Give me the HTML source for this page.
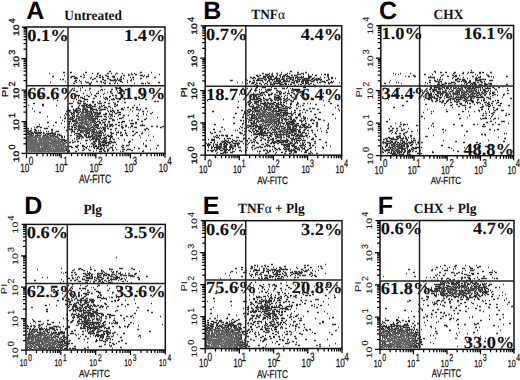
<!DOCTYPE html>
<html><head><meta charset="utf-8"><style>
html,body{margin:0;padding:0;background:#fff;width:520px;height:380px;overflow:hidden}
svg{display:block;text-rendering:geometricPrecision}
.let{font:bold 25px "Liberation Sans",sans-serif;fill:#000}
.tit{font:bold 14px "Liberation Serif",serif;fill:#111}
.pc{font:bold 17px "Liberation Serif",serif;fill:#111;stroke:#111;stroke-width:0.1}
.ax{font:12px "Liberation Sans",sans-serif;fill:#111;stroke:#111;stroke-width:0.25}
.ay{font:8px "Liberation Sans",sans-serif;fill:#111;stroke:#111;stroke-width:0.3}
.lt{stroke-width:0.1;fill:#222;stroke:#222}
.at{font:12px "Liberation Sans",sans-serif;fill:#111;stroke:#111;stroke-width:0.25}
.box{fill:none;stroke:#111;stroke-width:1.5}
.div{stroke:#222;stroke-width:1.5}
.tk{stroke:#000;stroke-width:1.25;fill:none}
</style></head><body>
<svg width="520" height="380" viewBox="0 0 520 380">
<text x="26.3" y="19.0" class="let">A</text>
<text transform="translate(64.3,19.5) scale(0.955,1)" class="tit">Untreated</text>
<rect x="26.5" y="27.0" width="138.5" height="126.3" class="box"/>
<line x1="68.0" y1="27.0" x2="68.0" y2="153.3" class="div"/>
<line x1="26.5" y1="85.7" x2="165.0" y2="85.7" class="div"/>
<path d="M26.5 153.3v5M26.5 153.3h-5M36.9 153.3v3M26.5 143.8h-3M43.0 153.3v3M26.5 138.2h-3M47.3 153.3v3M26.5 134.3h-3M50.7 153.3v3M26.5 131.2h-3M53.4 153.3v3M26.5 128.7h-3M55.8 153.3v3M26.5 126.6h-3M57.8 153.3v3M26.5 124.8h-3M59.5 153.3v3M26.5 123.2h-3M61.1 153.3v5M26.5 121.7h-5M71.5 153.3v3M26.5 112.2h-3M77.6 153.3v3M26.5 106.7h-3M82.0 153.3v3M26.5 102.7h-3M85.3 153.3v3M26.5 99.7h-3M88.1 153.3v3M26.5 97.2h-3M90.4 153.3v3M26.5 95.0h-3M92.4 153.3v3M26.5 93.2h-3M94.2 153.3v3M26.5 91.6h-3M95.8 153.3v5M26.5 90.2h-5M106.2 153.3v3M26.5 80.6h-3M112.3 153.3v3M26.5 75.1h-3M116.6 153.3v3M26.5 71.1h-3M120.0 153.3v3M26.5 68.1h-3M122.7 153.3v3M26.5 65.6h-3M125.0 153.3v3M26.5 63.5h-3M127.0 153.3v3M26.5 61.6h-3M128.8 153.3v3M26.5 60.0h-3M130.4 153.3v5M26.5 58.6h-5M140.8 153.3v3M26.5 49.1h-3M146.9 153.3v3M26.5 43.5h-3M151.2 153.3v3M26.5 39.6h-3M154.6 153.3v3M26.5 36.5h-3M157.3 153.3v3M26.5 34.0h-3M159.6 153.3v3M26.5 31.9h-3M161.6 153.3v3M26.5 30.1h-3M163.4 153.3v3M26.5 28.4h-3M165.0 153.3v4.5M26.5 27.0h-4.5" class="tk"/>
<text class="ax" style="font-size:12.0px" transform="translate(20.3,171.7) scale(0.683,1)">10</text>
<text class="ax" style="font-size:12.0px" transform="translate(28.7,165.4) scale(0.683,1)">0</text>
<text class="ax" style="font-size:12.0px" transform="translate(54.9,171.7) scale(0.683,1)">10</text>
<text class="ax" style="font-size:12.0px" transform="translate(63.3,165.4) scale(0.683,1)">1</text>
<text class="ax" style="font-size:12.0px" transform="translate(89.5,171.7) scale(0.683,1)">10</text>
<text class="ax" style="font-size:12.0px" transform="translate(98.0,165.4) scale(0.683,1)">2</text>
<text class="ax" style="font-size:12.0px" transform="translate(124.2,171.7) scale(0.683,1)">10</text>
<text class="ax" style="font-size:12.0px" transform="translate(132.6,165.4) scale(0.683,1)">3</text>
<text class="ax" style="font-size:12.0px" transform="translate(158.8,171.7) scale(0.683,1)">10</text>
<text class="ax" style="font-size:12.0px" transform="translate(167.2,165.4) scale(0.683,1)">4</text>
<text class="ay" transform="translate(18.5,162.3) rotate(-90) scale(1.3,1)">10</text>
<text class="ay" style="font-size:9px" transform="translate(14.9,149.5) rotate(-90)">0</text>
<text class="ay" transform="translate(18.5,130.7) rotate(-90) scale(1.3,1)">10</text>
<text class="ay" style="font-size:9px" transform="translate(14.9,117.9) rotate(-90)">1</text>
<text class="ay" transform="translate(18.5,99.2) rotate(-90) scale(1.3,1)">10</text>
<text class="ay" style="font-size:9px" transform="translate(14.9,86.4) rotate(-90)">2</text>
<text class="ay" transform="translate(18.5,67.6) rotate(-90) scale(1.3,1)">10</text>
<text class="ay" style="font-size:9px" transform="translate(14.9,54.8) rotate(-90)">3</text>
<text class="ay" transform="translate(18.5,36.0) rotate(-90) scale(1.3,1)">10</text>
<text class="ay" style="font-size:9px" transform="translate(14.9,23.2) rotate(-90)">4</text>
<text class="at" style="font-size:12.0px" text-anchor="middle" transform="translate(95.1,182.9) scale(0.716,1)">AV-FITC</text>
<text class="ay" style="font-size:8.5px" transform="translate(7.9,97.2) rotate(-90) scale(1.3,1)">PI</text>
<text transform="translate(27.3,40.8) scale(1.08,1)" class="pc">0.1%</text>
<text transform="translate(165.3,40.8) scale(1.08,1)" class="pc" text-anchor="end">1.4%</text>
<text transform="translate(27.3,99.0) scale(1.08,1)" class="pc">66.6%</text>
<text transform="translate(165.3,99.0) scale(1.08,1)" class="pc" text-anchor="end">31.9%</text>
<path d="M109 71.5h2M63 72.5h2M70 72.5h2M85 72.5h2M140 72.5h2M151 72.5h1M92 73.5h1M107 73.5h2M111 73.5h1M134 73.5h1M83 74.5h1M115 74.5h1M135 74.5h2M148 74.5h1M159 74.5h1M84 75.5h1M99 75.5h2M105 75.5h2M123 75.5h2M140 75.5h3M144 75.5h1M52 76.5h2M72 76.5h3M96 76.5h2M102 76.5h1M107 76.5h2M112 76.5h3M121 76.5h1M143 76.5h1M146 76.5h3M75 77.5h2M91 77.5h1M99 77.5h2M102 77.5h2M113 77.5h2M120 77.5h2M130 77.5h1M132 77.5h2M154 77.5h2M67 78.5h1M74 78.5h2M90 78.5h1M107 78.5h2M117 78.5h1M123 78.5h1M140 78.5h2M60 79.5h1M92 79.5h1M102 79.5h2M119 79.5h3M131 79.5h1M133 79.5h1M75 80.5h2M79 80.5h1M104 80.5h2M110 80.5h4M115 80.5h2M118 80.5h2M127 80.5h1M130 80.5h2M65 81.5h1M96 81.5h1M115 81.5h1M120 81.5h2M50 82.5h1M76 82.5h1M81 82.5h1M87 82.5h2M91 82.5h1M103 82.5h1M115 82.5h1M127 82.5h1M147 82.5h1M158 82.5h2M74 83.5h1M104 83.5h2M109 83.5h2M114 83.5h1M117 83.5h1M141 83.5h1M145 83.5h1M148 83.5h2M89 84.5h2M78 86.5h1M100 86.5h2M82 87.5h1M119 87.5h2M74 88.5h1M80 88.5h1M89 88.5h2M111 89.5h2M125 89.5h1M73 90.5h2M80 90.5h1M85 90.5h1M119 90.5h1M76 91.5h2M98 91.5h1M110 91.5h2M121 91.5h1M123 91.5h2M110 92.5h1M83 93.5h1M96 93.5h3M123 93.5h2M91 94.5h1M103 94.5h1M76 95.5h4M94 95.5h2M115 95.5h2M153 95.5h1M40 96.5h2M71 96.5h2M78 96.5h1M84 96.5h1M88 96.5h2M100 96.5h1M109 96.5h2M80 97.5h1M109 97.5h1M122 97.5h1M138 97.5h2M82 98.5h3M93 98.5h2M104 98.5h1M106 98.5h2M113 98.5h1M120 98.5h1M124 98.5h2M128 98.5h2M76 99.5h1M84 99.5h4M107 99.5h1M111 99.5h4M119 99.5h2M124 99.5h1M145 99.5h2M57 100.5h1M78 100.5h1M73 101.5h1M80 101.5h2M92 101.5h2M117 101.5h2M154 101.5h2M77 102.5h2M92 102.5h2M97 102.5h1M104 102.5h2M124 102.5h2M33 103.5h2M69 103.5h2M78 103.5h3M83 103.5h3M98 103.5h2M108 103.5h2M42 104.5h2M84 104.5h1M86 104.5h2M89 104.5h2M94 104.5h2M114 104.5h2M117 104.5h1M42 105.5h2M56 105.5h1M79 105.5h1M82 105.5h5M88 105.5h3M103 105.5h2M116 105.5h2M134 105.5h1M71 106.5h2M82 106.5h3M86 106.5h2M90 106.5h1M92 106.5h4M108 106.5h2M78 107.5h1M88 107.5h4M104 107.5h3M110 107.5h1M127 107.5h2M132 107.5h2M136 107.5h2M67 108.5h1M77 108.5h3M84 108.5h2M90 108.5h3M98 108.5h1M107 108.5h1M112 108.5h1M121 108.5h2M145 108.5h2M68 109.5h1M73 109.5h1M76 109.5h1M82 109.5h1M87 109.5h1M90 109.5h7M102 109.5h3M121 109.5h3M130 109.5h1M140 109.5h1M67 110.5h4M73 110.5h1M76 110.5h1M79 110.5h1M85 110.5h2M90 110.5h1M92 110.5h1M99 110.5h1M110 110.5h1M112 110.5h2M117 110.5h2M34 111.5h1M66 111.5h4M74 111.5h4M80 111.5h1M83 111.5h1M91 111.5h1M93 111.5h1M108 111.5h1M110 111.5h2M142 111.5h2M73 112.5h2M76 112.5h2M90 112.5h2M93 112.5h3M112 112.5h1M114 112.5h1M117 112.5h4M152 112.5h1M65 113.5h1M67 113.5h2M71 113.5h2M78 113.5h1M91 113.5h2M95 113.5h1M97 113.5h4M105 113.5h2M115 113.5h2M138 113.5h1M66 114.5h1M71 114.5h1M73 114.5h1M78 114.5h1M97 114.5h3M105 114.5h2M109 114.5h2M119 114.5h2M143 114.5h1M146 114.5h1M64 115.5h1M67 115.5h1M92 115.5h1M94 115.5h1M96 115.5h1M111 115.5h1M118 115.5h1M123 115.5h2M128 115.5h1M47 116.5h1M68 116.5h1M72 116.5h1M89 116.5h1M93 116.5h1M95 116.5h7M104 116.5h2M110 116.5h1M114 116.5h1M60 117.5h1M70 117.5h3M97 117.5h1M106 117.5h1M64 118.5h2M68 118.5h1M72 118.5h2M96 118.5h2M109 118.5h1M119 118.5h2M146 118.5h1M71 119.5h2M97 119.5h1M103 119.5h4M112 119.5h2M144 119.5h2M62 120.5h1M72 120.5h3M112 120.5h1M64 121.5h1M69 121.5h2M72 121.5h2M95 121.5h1M97 121.5h3M108 121.5h2M122 121.5h3M141 121.5h2M47 122.5h2M55 122.5h2M69 122.5h1M102 122.5h3M118 122.5h2M121 122.5h2M135 122.5h2M61 123.5h1M68 123.5h2M74 123.5h1M130 123.5h4M39 124.5h1M68 124.5h2M73 124.5h1M95 124.5h1M97 124.5h1M101 124.5h1M104 124.5h2M107 124.5h1M111 124.5h2M115 124.5h2M142 124.5h1M53 125.5h1M74 125.5h1M76 125.5h1M94 125.5h5M104 125.5h2M107 125.5h1M110 125.5h2M118 125.5h2M125 125.5h2M131 125.5h2M140 125.5h2M144 125.5h1M37 126.5h2M71 126.5h2M94 126.5h1M96 126.5h1M98 126.5h1M106 126.5h2M109 126.5h2M112 126.5h1M121 126.5h2M151 126.5h2M156 126.5h2M40 127.5h2M64 127.5h1M72 127.5h1M74 127.5h2M93 127.5h1M97 127.5h1M102 127.5h2M128 127.5h1M134 127.5h3M160 127.5h2M27 128.5h2M44 128.5h1M46 128.5h2M71 128.5h1M97 128.5h2M101 128.5h1M103 128.5h3M107 128.5h2M115 128.5h2M122 128.5h1M146 128.5h2M34 129.5h2M69 129.5h4M74 129.5h2M95 129.5h1M103 129.5h2M110 129.5h2M144 129.5h2M148 129.5h1M27 130.5h2M30 130.5h2M35 130.5h2M38 130.5h1M40 130.5h1M51 130.5h2M66 130.5h2M72 130.5h1M78 130.5h1M80 130.5h1M90 130.5h1M99 130.5h1M102 130.5h1M104 130.5h2M115 130.5h1M29 131.5h2M34 131.5h1M46 131.5h1M48 131.5h1M58 131.5h1M71 131.5h2M77 131.5h1M80 131.5h1M83 131.5h1M96 131.5h1M98 131.5h1M100 131.5h2M132 131.5h2M27 132.5h2M30 132.5h1M34 132.5h3M39 132.5h3M43 132.5h1M52 132.5h1M55 132.5h1M80 132.5h1M82 132.5h1M87 132.5h1M93 132.5h1M99 132.5h2M110 132.5h2M118 132.5h1M120 132.5h2M136 132.5h2M142 132.5h1M28 133.5h2M31 133.5h3M35 133.5h2M39 133.5h2M47 133.5h7M76 133.5h3M86 133.5h2M89 133.5h1M97 133.5h5M103 133.5h1M113 133.5h1M125 133.5h2M135 133.5h1M29 134.5h1M33 134.5h1M37 134.5h1M48 134.5h1M55 134.5h1M57 134.5h3M74 134.5h1M78 134.5h3M84 134.5h1M105 134.5h1M111 134.5h1M116 134.5h1M122 134.5h1M59 135.5h3M68 135.5h1M79 135.5h1M81 135.5h1M84 135.5h1M88 135.5h1M92 135.5h1M98 135.5h4M107 135.5h2M121 135.5h2M126 135.5h2M62 136.5h1M64 136.5h1M77 136.5h1M80 136.5h1M82 136.5h1M85 136.5h2M88 136.5h3M98 136.5h2M106 136.5h1M108 136.5h5M153 136.5h1M61 137.5h2M79 137.5h1M86 137.5h3M90 137.5h1M93 137.5h1M96 137.5h1M104 137.5h2M110 137.5h2M140 137.5h1M78 138.5h2M81 138.5h1M92 138.5h2M96 138.5h1M100 138.5h1M103 138.5h4M110 138.5h1M112 138.5h1M63 139.5h2M89 139.5h1M91 139.5h1M95 139.5h3M99 139.5h1M101 139.5h1M109 139.5h2M132 139.5h1M64 140.5h1M72 140.5h1M85 140.5h2M95 140.5h1M99 140.5h1M103 140.5h1M106 140.5h1M124 140.5h1M146 140.5h1M150 140.5h1M64 141.5h2M77 141.5h2M93 141.5h1M100 141.5h1M103 141.5h1M105 141.5h1M109 141.5h3M114 141.5h1M129 141.5h2M66 142.5h1M69 142.5h2M72 142.5h2M94 142.5h1M98 142.5h2M101 142.5h7M111 142.5h2M115 142.5h1M128 142.5h2M80 143.5h1M86 143.5h1M99 143.5h2M105 143.5h2M108 143.5h1M110 143.5h1M143 143.5h1M92 144.5h2M98 144.5h3M102 144.5h3M108 144.5h1M116 144.5h1M129 144.5h1M82 145.5h2M93 145.5h1M95 145.5h2M100 145.5h5M107 145.5h1M126 145.5h2M66 146.5h1M68 146.5h4M75 146.5h3M82 146.5h3M89 146.5h1M91 146.5h1M93 146.5h4M98 146.5h1M100 146.5h1M103 146.5h1M121 146.5h1M145 146.5h2M71 147.5h2M85 147.5h2M97 147.5h2M101 147.5h1M110 147.5h3M134 147.5h1M66 148.5h1M83 148.5h1M94 148.5h1M96 148.5h3M100 148.5h1M109 148.5h1M112 148.5h1M138 148.5h2M156 148.5h1M66 149.5h1M84 149.5h1M99 149.5h3M103 149.5h1M107 149.5h2M112 149.5h1M122 149.5h1M124 149.5h1M127 149.5h2M150 149.5h1M66 150.5h1M89 150.5h2M103 150.5h1M107 150.5h2M112 150.5h2M126 150.5h1M67 151.5h3M75 151.5h2M93 151.5h1M99 151.5h3M104 151.5h2M107 151.5h1M120 151.5h1M142 151.5h1" stroke="rgb(45,45,45)" stroke-width="1.3" stroke-linecap="butt" fill="none"/>
<path d="M49 73.5h1M97 73.5h2M116 73.5h2M122 73.5h1M131 73.5h1M97 74.5h1M128 74.5h2M131 74.5h2M64 75.5h1M128 75.5h1M71 76.5h1M80 76.5h2M70 77.5h2M83 77.5h2M146 77.5h1M76 78.5h2M94 78.5h2M62 79.5h2M93 79.5h1M109 79.5h2M114 79.5h2M117 79.5h1M114 80.5h1M120 80.5h1M74 81.5h2M80 81.5h1M85 81.5h1M97 81.5h1M100 81.5h2M86 82.5h1M101 82.5h1M105 82.5h1M122 82.5h1M73 83.5h1M81 83.5h1M89 83.5h2M134 83.5h1M142 83.5h2M82 86.5h1M131 86.5h1M115 87.5h2M89 89.5h1M101 89.5h2M104 89.5h1M100 90.5h1M102 90.5h1M123 90.5h1M117 91.5h1M90 92.5h1M107 92.5h1M104 93.5h1M111 93.5h2M158 93.5h1M86 95.5h2M112 95.5h2M141 95.5h2M95 96.5h2M78 97.5h1M81 97.5h2M103 97.5h1M105 97.5h2M129 97.5h2M123 98.5h1M53 99.5h1M105 99.5h1M135 99.5h2M79 100.5h2M109 100.5h1M83 101.5h2M87 101.5h1M99 101.5h2M157 101.5h2M113 102.5h1M71 103.5h2M100 103.5h2M114 103.5h2M139 104.5h1M28 105.5h1M81 105.5h1M91 105.5h1M101 105.5h1M78 106.5h1M99 106.5h1M101 106.5h2M114 106.5h2M83 107.5h2M86 107.5h2M99 107.5h2M124 107.5h1M32 108.5h1M76 108.5h1M83 108.5h1M99 108.5h1M75 109.5h1M80 109.5h1M83 109.5h4M100 109.5h2M105 109.5h1M136 109.5h3M74 110.5h2M77 110.5h2M82 110.5h2M87 110.5h1M96 110.5h2M107 110.5h1M139 110.5h1M86 111.5h5M113 111.5h2M132 111.5h1M147 111.5h1M39 112.5h2M70 112.5h2M81 112.5h7M96 112.5h2M99 112.5h2M73 113.5h2M81 113.5h1M87 113.5h3M96 113.5h1M109 113.5h1M143 113.5h1M150 113.5h2M83 114.5h1M85 114.5h1M87 114.5h1M90 114.5h3M94 114.5h2M103 114.5h2M111 114.5h2M68 115.5h2M72 115.5h1M74 115.5h1M76 115.5h1M81 115.5h1M88 115.5h3M136 115.5h2M73 116.5h2M76 116.5h1M90 116.5h1M92 116.5h1M108 116.5h1M112 116.5h1M138 116.5h1M65 117.5h1M74 117.5h1M78 117.5h3M91 117.5h2M95 117.5h1M122 117.5h2M157 117.5h1M69 118.5h2M76 118.5h1M78 118.5h1M81 118.5h1M88 118.5h2M92 118.5h2M95 118.5h1M110 118.5h2M121 118.5h1M67 119.5h1M69 119.5h2M75 119.5h1M88 119.5h2M91 119.5h1M93 119.5h3M99 119.5h1M117 119.5h1M137 119.5h2M67 120.5h1M75 120.5h1M92 120.5h3M101 120.5h2M113 120.5h2M129 120.5h1M131 120.5h2M68 121.5h1M74 121.5h3M90 121.5h1M93 121.5h2M105 121.5h1M76 122.5h2M90 122.5h1M92 122.5h1M94 122.5h1M96 122.5h1M99 122.5h2M108 122.5h2M71 123.5h1M75 123.5h2M78 123.5h1M80 123.5h1M94 123.5h2M99 123.5h2M104 123.5h1M135 123.5h2M79 124.5h1M91 124.5h1M96 124.5h1M98 124.5h1M109 124.5h2M121 124.5h1M73 125.5h1M75 125.5h1M78 125.5h2M81 125.5h1M113 125.5h1M142 125.5h2M39 126.5h1M48 126.5h1M68 126.5h2M76 126.5h1M78 126.5h4M92 126.5h1M131 126.5h2M162 126.5h2M34 127.5h1M36 127.5h2M67 127.5h2M78 127.5h5M85 127.5h1M91 127.5h2M95 127.5h2M100 127.5h1M104 127.5h2M121 127.5h3M130 127.5h1M31 128.5h1M45 128.5h1M69 128.5h1M76 128.5h1M78 128.5h1M81 128.5h6M88 128.5h2M93 128.5h2M99 128.5h1M51 129.5h2M77 129.5h3M85 129.5h2M89 129.5h1M91 129.5h1M94 129.5h1M79 130.5h1M81 130.5h1M85 130.5h2M92 130.5h1M94 130.5h1M96 130.5h1M100 130.5h1M124 130.5h2M145 130.5h1M56 131.5h2M73 131.5h2M82 131.5h1M84 131.5h1M86 131.5h1M89 131.5h1M91 131.5h4M104 131.5h2M118 131.5h1M31 132.5h2M37 132.5h2M51 132.5h1M71 132.5h1M74 132.5h1M81 132.5h1M85 132.5h1M88 132.5h2M92 132.5h1M94 132.5h4M102 132.5h1M116 132.5h2M125 132.5h1M37 133.5h2M43 133.5h2M46 133.5h1M54 133.5h2M75 133.5h1M79 133.5h1M88 133.5h1M91 133.5h1M93 133.5h1M111 133.5h2M120 133.5h1M141 133.5h2M27 134.5h2M30 134.5h2M45 134.5h1M50 134.5h1M53 134.5h2M85 134.5h2M89 134.5h1M92 134.5h5M134 134.5h1M31 135.5h1M36 135.5h5M43 135.5h3M47 135.5h1M50 135.5h1M53 135.5h2M57 135.5h1M70 135.5h2M76 135.5h2M80 135.5h1M85 135.5h2M91 135.5h1M95 135.5h3M103 135.5h2M110 135.5h2M120 135.5h1M132 135.5h2M139 135.5h1M148 135.5h1M35 136.5h1M50 136.5h1M55 136.5h3M61 136.5h1M78 136.5h2M81 136.5h1M91 136.5h4M100 136.5h1M64 137.5h1M76 137.5h2M82 137.5h2M89 137.5h1M92 137.5h1M94 137.5h1M97 137.5h1M99 137.5h2M74 138.5h1M94 138.5h2M98 138.5h1M102 138.5h1M118 138.5h1M60 139.5h3M76 139.5h2M92 139.5h2M98 139.5h1M104 139.5h1M113 139.5h2M124 139.5h1M61 140.5h3M65 140.5h2M87 140.5h1M90 140.5h1M96 140.5h1M98 140.5h1M104 140.5h2M74 141.5h2M94 141.5h3M98 141.5h1M102 141.5h1M104 141.5h1M93 142.5h1M108 142.5h2M113 142.5h2M65 143.5h1M91 143.5h2M94 143.5h2M109 143.5h1M94 144.5h1M68 145.5h1M77 145.5h2M105 145.5h2M108 145.5h1M112 145.5h2M122 145.5h2M128 145.5h1M145 145.5h2M157 145.5h2M65 146.5h1M87 146.5h1M99 146.5h1M76 147.5h2M93 147.5h2M104 147.5h1M106 147.5h1M115 147.5h1M122 147.5h2M65 148.5h1M86 148.5h1M101 148.5h2M104 148.5h1M78 149.5h1M88 149.5h1M116 149.5h1M123 149.5h1M129 149.5h2M68 150.5h2M82 150.5h2M96 150.5h1M104 150.5h1M131 150.5h2M122 151.5h2M143 151.5h1" stroke="rgb(65,65,65)" stroke-width="1.3" stroke-linecap="butt" fill="none"/>
<path d="M100 110.5h2M82 111.5h1M85 111.5h1M78 112.5h2M89 112.5h1M82 113.5h1M86 113.5h1M77 114.5h1M80 114.5h1M82 114.5h1M86 114.5h1M89 114.5h1M77 115.5h1M80 115.5h1M83 115.5h1M85 115.5h3M77 116.5h3M82 116.5h1M85 116.5h4M91 116.5h1M81 117.5h3M85 117.5h1M87 117.5h1M90 117.5h1M77 118.5h1M79 118.5h1M84 118.5h4M90 118.5h2M94 118.5h1M76 119.5h1M78 119.5h2M81 119.5h2M85 119.5h2M90 119.5h1M92 119.5h1M76 120.5h1M78 120.5h6M86 120.5h1M90 120.5h2M77 121.5h1M85 121.5h1M87 121.5h1M92 121.5h1M79 122.5h4M85 122.5h2M88 122.5h1M91 122.5h1M93 122.5h1M77 123.5h1M86 123.5h2M89 123.5h2M75 124.5h1M81 124.5h2M85 124.5h2M88 124.5h1M93 124.5h1M80 125.5h1M83 125.5h1M87 125.5h2M90 125.5h2M93 125.5h1M77 126.5h1M82 126.5h3M87 126.5h1M89 126.5h1M125 126.5h2M83 127.5h2M87 127.5h2M90 127.5h1M79 128.5h2M87 128.5h1M90 128.5h1M87 129.5h2M92 129.5h2M82 130.5h3M87 130.5h3M93 130.5h1M27 131.5h2M81 131.5h1M87 131.5h1M86 132.5h1M83 133.5h1M41 134.5h1M47 134.5h1M52 134.5h1M29 135.5h2M32 135.5h2M35 135.5h1M46 135.5h1M49 135.5h1M52 135.5h1M28 136.5h5M34 136.5h1M36 136.5h2M39 136.5h1M43 136.5h2M46 136.5h3M51 136.5h3M95 136.5h3M29 137.5h1M33 137.5h1M37 137.5h1M42 137.5h1M45 137.5h4M55 137.5h4M58 138.5h1M97 138.5h1M27 139.5h1M31 139.5h1M35 139.5h1M41 139.5h1M54 139.5h1M59 139.5h1M27 140.5h1M29 140.5h1M32 140.5h1M35 140.5h1M54 140.5h1M40 141.5h1M48 141.5h1M54 141.5h1M59 141.5h1M62 141.5h1M99 141.5h1M28 142.5h1M36 142.5h2M39 142.5h1M63 142.5h1M31 143.5h1M34 143.5h1M43 143.5h1M45 143.5h1M51 143.5h1M58 143.5h1M63 143.5h2M31 144.5h1M37 144.5h2M48 144.5h1M51 144.5h1M61 144.5h1M63 144.5h1M143 144.5h1M46 145.5h1M60 145.5h1M63 145.5h1M65 145.5h1M38 146.5h1M45 146.5h2M56 146.5h1M41 147.5h1M55 147.5h1M58 147.5h1M61 147.5h1M64 147.5h1M28 148.5h1M31 148.5h1M33 148.5h1M37 148.5h2M42 148.5h1M45 148.5h1M53 148.5h1M57 148.5h1M61 148.5h1M32 149.5h1M54 149.5h1M62 149.5h1M34 150.5h1M38 150.5h2M52 150.5h1M56 150.5h1M58 150.5h1M60 150.5h1M62 150.5h1M65 150.5h1M143 150.5h1M27 151.5h1M31 151.5h1M39 151.5h2M55 151.5h1M64 151.5h1" stroke="rgb(85,85,85)" stroke-width="1.3" stroke-linecap="butt" fill="none"/>
<path d="M84 115.5h1M81 116.5h1M83 116.5h2M84 117.5h1M86 117.5h1M88 117.5h2M82 118.5h2M80 119.5h1M83 119.5h2M85 120.5h1M88 120.5h2M81 121.5h4M86 121.5h1M88 121.5h1M83 122.5h2M81 123.5h5M84 124.5h1M87 124.5h1M89 124.5h1M86 125.5h1M88 126.5h1M51 135.5h1M27 136.5h1M40 136.5h1M42 136.5h1M54 136.5h1M27 137.5h2M30 137.5h3M34 137.5h3M38 137.5h3M43 137.5h2M49 137.5h2M52 137.5h2M27 138.5h6M34 138.5h3M38 138.5h14M53 138.5h3M57 138.5h1M59 138.5h1M28 139.5h3M32 139.5h3M36 139.5h1M38 139.5h3M42 139.5h11M55 139.5h2M58 139.5h1M28 140.5h1M30 140.5h2M33 140.5h2M36 140.5h18M55 140.5h5M27 141.5h10M39 141.5h1M41 141.5h1M43 141.5h5M51 141.5h3M55 141.5h4M60 141.5h2M27 142.5h1M29 142.5h7M38 142.5h1M40 142.5h23M27 143.5h4M32 143.5h2M35 143.5h8M44 143.5h1M46 143.5h5M52 143.5h6M59 143.5h2M62 143.5h1M27 144.5h4M32 144.5h5M39 144.5h9M50 144.5h1M52 144.5h5M58 144.5h3M62 144.5h1M64 144.5h1M27 145.5h19M47 145.5h4M52 145.5h8M61 145.5h2M27 146.5h11M39 146.5h1M41 146.5h1M43 146.5h2M47 146.5h9M57 146.5h5M63 146.5h2M27 147.5h13M42 147.5h9M52 147.5h1M54 147.5h1M56 147.5h2M59 147.5h1M62 147.5h2M27 148.5h1M29 148.5h2M32 148.5h1M34 148.5h2M39 148.5h3M43 148.5h2M46 148.5h7M55 148.5h2M58 148.5h3M62 148.5h2M27 149.5h5M33 149.5h19M53 149.5h1M55 149.5h7M63 149.5h2M27 150.5h3M31 150.5h3M35 150.5h3M40 150.5h6M47 150.5h5M53 150.5h3M57 150.5h1M59 150.5h1M61 150.5h1M63 150.5h2M29 151.5h2M32 151.5h7M41 151.5h14M56 151.5h8" stroke="rgb(105,105,105)" stroke-width="1.3" stroke-linecap="butt" fill="none"/>
<text x="203.2" y="18.8" class="let">B</text>
<text transform="translate(251.3,18.8) scale(0.955,1)" class="tit">TNF<tspan style="font-weight:normal">α</tspan></text>
<rect x="205.2" y="25.8" width="136.5" height="129.4" class="box"/>
<line x1="245.8" y1="25.8" x2="245.8" y2="155.2" class="div"/>
<line x1="205.2" y1="86.3" x2="341.7" y2="86.3" class="div"/>
<path d="M205.2 155.2v5M205.2 155.2h-5M215.5 155.2v3M205.2 145.5h-3M221.5 155.2v3M205.2 139.8h-3M225.7 155.2v3M205.2 135.7h-3M229.1 155.2v3M205.2 132.6h-3M231.8 155.2v3M205.2 130.0h-3M234.0 155.2v3M205.2 127.9h-3M236.0 155.2v3M205.2 126.0h-3M237.8 155.2v3M205.2 124.3h-3M239.3 155.2v5M205.2 122.8h-5M249.6 155.2v3M205.2 113.1h-3M255.6 155.2v3M205.2 107.4h-3M259.9 155.2v3M205.2 103.4h-3M263.2 155.2v3M205.2 100.2h-3M265.9 155.2v3M205.2 97.7h-3M268.2 155.2v3M205.2 95.5h-3M270.1 155.2v3M205.2 93.6h-3M271.9 155.2v3M205.2 92.0h-3M273.4 155.2v5M205.2 90.5h-5M283.7 155.2v3M205.2 80.8h-3M289.7 155.2v3M205.2 75.1h-3M294.0 155.2v3M205.2 71.0h-3M297.3 155.2v3M205.2 67.9h-3M300.0 155.2v3M205.2 65.3h-3M302.3 155.2v3M205.2 63.2h-3M304.3 155.2v3M205.2 61.3h-3M306.0 155.2v3M205.2 59.6h-3M307.6 155.2v5M205.2 58.2h-5M317.8 155.2v3M205.2 48.4h-3M323.9 155.2v3M205.2 42.7h-3M328.1 155.2v3M205.2 38.7h-3M331.4 155.2v3M205.2 35.5h-3M334.1 155.2v3M205.2 33.0h-3M336.4 155.2v3M205.2 30.8h-3M338.4 155.2v3M205.2 28.9h-3M340.1 155.2v3M205.2 27.3h-3M341.7 155.2v4.5M205.2 25.8h-4.5" class="tk"/>
<text class="ax" style="font-size:10.9px" transform="translate(199.0,172.9) scale(0.683,1)">10</text>
<text class="ax" style="font-size:10.9px" transform="translate(207.4,166.7) scale(0.683,1)">0</text>
<text class="ax" style="font-size:10.9px" transform="translate(233.1,172.9) scale(0.683,1)">10</text>
<text class="ax" style="font-size:10.9px" transform="translate(241.5,166.7) scale(0.683,1)">1</text>
<text class="ax" style="font-size:10.9px" transform="translate(267.2,172.9) scale(0.683,1)">10</text>
<text class="ax" style="font-size:10.9px" transform="translate(275.6,166.7) scale(0.683,1)">2</text>
<text class="ax" style="font-size:10.9px" transform="translate(301.4,172.9) scale(0.683,1)">10</text>
<text class="ax" style="font-size:10.9px" transform="translate(309.8,166.7) scale(0.683,1)">3</text>
<text class="ax" style="font-size:10.9px" transform="translate(335.5,172.9) scale(0.683,1)">10</text>
<text class="ax" style="font-size:10.9px" transform="translate(343.9,166.7) scale(0.683,1)">4</text>
<text class="ay" transform="translate(197.2,164.2) rotate(-90) scale(1.3,1)">10</text>
<text class="ay" style="font-size:9px" transform="translate(193.6,151.4) rotate(-90)">0</text>
<text class="ay" transform="translate(197.2,131.8) rotate(-90) scale(1.3,1)">10</text>
<text class="ay" style="font-size:9px" transform="translate(193.6,119.0) rotate(-90)">1</text>
<text class="ay" transform="translate(197.2,99.5) rotate(-90) scale(1.3,1)">10</text>
<text class="ay" style="font-size:9px" transform="translate(193.6,86.7) rotate(-90)">2</text>
<text class="ay" transform="translate(197.2,67.2) rotate(-90) scale(1.3,1)">10</text>
<text class="ay" style="font-size:9px" transform="translate(193.6,54.4) rotate(-90)">3</text>
<text class="ay" transform="translate(197.2,34.8) rotate(-90) scale(1.3,1)">10</text>
<text class="ay" style="font-size:9px" transform="translate(193.6,22.0) rotate(-90)">4</text>
<text class="at" style="font-size:10.6px" text-anchor="middle" transform="translate(272.6,183.7) scale(0.769,1)">AV-FITC</text>
<text class="ay" style="font-size:8.5px" transform="translate(186.6,97.5) rotate(-90) scale(1.3,1)">PI</text>
<text transform="translate(206.0,39.6) scale(1.08,1)" class="pc">0.7%</text>
<text transform="translate(342.0,39.6) scale(1.08,1)" class="pc" text-anchor="end">4.4%</text>
<text transform="translate(206.0,99.6) scale(1.08,1)" class="pc">18.7%</text>
<text transform="translate(342.0,99.6) scale(1.08,1)" class="pc" text-anchor="end">76.4%</text>
<path d="M290 71.5h2M281 72.5h1M297 72.5h2M262 73.5h1M269 73.5h1M272 73.5h1M287 73.5h1M301 73.5h1M265 74.5h2M285 74.5h2M297 74.5h2M308 74.5h1M312 74.5h1M324 74.5h2M256 75.5h2M266 75.5h2M269 75.5h1M272 75.5h1M277 75.5h1M279 75.5h1M284 75.5h2M287 75.5h1M294 75.5h3M308 75.5h1M315 75.5h2M327 75.5h2M257 76.5h2M263 76.5h3M268 76.5h4M273 76.5h1M276 76.5h1M280 76.5h1M282 76.5h1M287 76.5h3M297 76.5h1M301 76.5h1M303 76.5h1M308 76.5h4M250 77.5h2M253 77.5h2M263 77.5h3M267 77.5h2M270 77.5h2M275 77.5h2M282 77.5h1M284 77.5h1M289 77.5h5M295 77.5h4M302 77.5h2M308 77.5h3M320 77.5h1M324 77.5h1M328 77.5h1M331 77.5h2M252 78.5h2M255 78.5h1M258 78.5h3M263 78.5h1M268 78.5h1M275 78.5h5M282 78.5h2M286 78.5h1M295 78.5h1M304 78.5h1M306 78.5h4M312 78.5h2M316 78.5h1M318 78.5h2M328 78.5h1M331 78.5h2M245 79.5h2M257 79.5h2M264 79.5h3M269 79.5h3M274 79.5h1M276 79.5h2M279 79.5h1M281 79.5h1M283 79.5h1M286 79.5h1M290 79.5h1M293 79.5h1M298 79.5h1M302 79.5h3M311 79.5h2M315 79.5h1M318 79.5h2M321 79.5h1M328 79.5h2M230 80.5h2M253 80.5h2M256 80.5h7M265 80.5h1M268 80.5h2M272 80.5h1M276 80.5h2M279 80.5h2M283 80.5h2M292 80.5h1M295 80.5h1M297 80.5h1M302 80.5h2M305 80.5h1M307 80.5h4M313 80.5h1M316 80.5h2M326 80.5h1M249 81.5h2M267 81.5h1M269 81.5h1M274 81.5h3M279 81.5h2M283 81.5h4M288 81.5h1M294 81.5h1M296 81.5h1M299 81.5h1M301 81.5h3M305 81.5h3M311 81.5h3M322 81.5h3M331 81.5h1M333 81.5h1M237 82.5h1M242 82.5h1M252 82.5h3M273 82.5h1M278 82.5h2M281 82.5h2M291 82.5h2M296 82.5h2M301 82.5h1M303 82.5h1M305 82.5h2M317 82.5h1M319 82.5h2M324 82.5h2M328 82.5h1M330 82.5h3M247 83.5h1M251 83.5h3M259 83.5h2M265 83.5h2M270 83.5h1M273 83.5h3M277 83.5h4M284 83.5h2M293 83.5h1M302 83.5h2M305 83.5h2M310 83.5h1M328 83.5h2M255 84.5h1M261 84.5h1M264 84.5h1M267 84.5h1M270 84.5h3M274 84.5h1M280 84.5h1M283 84.5h1M285 84.5h2M288 84.5h1M290 84.5h2M298 84.5h1M300 84.5h2M305 84.5h1M308 84.5h2M313 84.5h1M254 85.5h1M256 85.5h2M272 85.5h2M279 85.5h2M295 85.5h1M304 85.5h1M314 85.5h2M281 86.5h2M284 86.5h1M304 86.5h1M314 86.5h2M319 86.5h2M256 87.5h2M262 87.5h4M287 87.5h1M303 87.5h3M275 88.5h2M282 88.5h1M286 88.5h1M290 88.5h1M292 88.5h1M255 89.5h1M267 89.5h4M292 89.5h1M250 90.5h1M254 90.5h3M266 90.5h1M269 90.5h2M276 90.5h2M245 91.5h1M259 91.5h1M265 91.5h2M278 91.5h3M288 91.5h1M297 91.5h2M300 91.5h2M261 92.5h2M281 92.5h1M285 92.5h1M253 93.5h1M260 93.5h2M271 93.5h2M279 93.5h2M283 93.5h2M287 93.5h3M323 93.5h1M239 94.5h1M253 94.5h2M256 94.5h3M262 94.5h1M264 94.5h1M268 94.5h4M255 95.5h2M260 95.5h1M265 95.5h1M268 95.5h2M278 95.5h1M285 95.5h1M290 95.5h2M295 95.5h2M251 96.5h1M258 96.5h2M278 96.5h2M281 96.5h1M284 96.5h1M291 96.5h1M295 96.5h1M254 97.5h1M256 97.5h2M263 97.5h1M274 97.5h5M296 97.5h1M256 98.5h1M258 98.5h3M269 98.5h2M274 98.5h1M276 98.5h5M294 98.5h1M304 98.5h2M252 99.5h6M260 99.5h2M268 99.5h1M275 99.5h2M279 99.5h3M313 99.5h1M319 99.5h2M207 100.5h1M249 100.5h2M258 100.5h3M263 100.5h2M266 100.5h2M270 100.5h3M277 100.5h2M323 100.5h1M238 101.5h1M248 101.5h3M254 101.5h5M260 101.5h2M271 101.5h1M291 101.5h3M247 102.5h2M255 102.5h4M264 102.5h2M267 102.5h2M273 102.5h3M278 102.5h1M280 102.5h2M283 102.5h2M297 102.5h1M249 103.5h2M254 103.5h2M260 103.5h5M269 103.5h5M277 103.5h2M290 103.5h2M297 103.5h2M310 103.5h1M330 103.5h2M245 104.5h2M248 104.5h2M263 104.5h1M269 104.5h2M278 104.5h1M280 104.5h2M283 104.5h1M290 104.5h2M296 104.5h2M249 105.5h1M258 105.5h1M264 105.5h1M266 105.5h1M271 105.5h1M276 105.5h2M281 105.5h2M284 105.5h1M324 105.5h1M337 105.5h2M251 106.5h3M256 106.5h1M276 106.5h3M282 106.5h2M285 106.5h2M290 106.5h1M298 106.5h1M300 106.5h1M237 107.5h2M252 107.5h1M254 107.5h2M258 107.5h1M271 107.5h1M277 107.5h3M288 107.5h2M335 107.5h1M252 108.5h3M273 108.5h2M278 108.5h1M283 108.5h5M297 108.5h1M248 109.5h3M252 109.5h1M266 109.5h1M279 109.5h3M338 109.5h1M241 110.5h2M247 110.5h1M250 110.5h2M254 110.5h3M275 110.5h2M278 110.5h10M294 110.5h2M339 110.5h1M212 111.5h2M244 111.5h2M252 111.5h2M255 111.5h1M258 111.5h1M277 111.5h2M285 111.5h1M291 111.5h1M244 112.5h2M248 112.5h2M252 112.5h1M276 112.5h1M280 112.5h1M283 112.5h2M286 112.5h2M294 112.5h2M302 112.5h1M319 112.5h2M235 113.5h2M244 113.5h2M252 113.5h1M278 113.5h1M283 113.5h6M290 113.5h2M293 113.5h1M299 113.5h2M249 114.5h1M279 114.5h1M283 114.5h1M285 114.5h3M291 114.5h2M298 114.5h3M314 114.5h2M332 114.5h2M247 115.5h2M252 115.5h2M278 115.5h1M281 115.5h3M286 115.5h1M291 115.5h2M298 115.5h2M243 116.5h1M283 116.5h1M288 116.5h3M300 116.5h1M303 116.5h1M249 117.5h1M251 117.5h1M280 117.5h1M290 117.5h1M295 117.5h3M304 117.5h2M315 117.5h2M246 118.5h2M251 118.5h2M254 118.5h1M256 118.5h1M281 118.5h1M283 118.5h3M291 118.5h1M296 118.5h1M301 118.5h1M304 118.5h2M335 118.5h1M251 119.5h1M282 119.5h1M284 119.5h4M290 119.5h2M293 119.5h2M304 119.5h1M311 119.5h2M318 119.5h3M240 120.5h2M243 120.5h1M246 120.5h1M249 120.5h2M254 120.5h1M278 120.5h1M281 120.5h1M286 120.5h1M292 120.5h2M299 120.5h1M301 120.5h1M303 120.5h1M310 120.5h2M313 120.5h2M246 121.5h1M248 121.5h1M253 121.5h2M285 121.5h1M288 121.5h1M290 121.5h6M301 121.5h2M305 121.5h1M250 122.5h2M253 122.5h2M278 122.5h1M286 122.5h2M289 122.5h5M301 122.5h1M316 122.5h2M233 123.5h2M242 123.5h2M251 123.5h4M271 123.5h1M278 123.5h1M282 123.5h3M286 123.5h4M293 123.5h2M297 123.5h2M305 123.5h2M312 123.5h2M317 123.5h1M214 124.5h2M242 124.5h1M251 124.5h1M290 124.5h4M303 124.5h2M316 124.5h2M245 125.5h1M249 125.5h2M253 125.5h2M257 125.5h1M276 125.5h1M287 125.5h2M292 125.5h1M294 125.5h5M302 125.5h4M246 126.5h1M249 126.5h5M255 126.5h3M259 126.5h2M262 126.5h1M282 126.5h2M290 126.5h1M293 126.5h4M303 126.5h2M306 126.5h1M310 126.5h2M316 126.5h2M248 127.5h1M255 127.5h2M258 127.5h1M260 127.5h2M276 127.5h1M288 127.5h3M292 127.5h2M296 127.5h1M301 127.5h2M304 127.5h2M307 127.5h2M310 127.5h1M328 127.5h1M239 128.5h1M244 128.5h1M250 128.5h1M253 128.5h2M258 128.5h4M265 128.5h2M272 128.5h1M276 128.5h1M284 128.5h1M289 128.5h2M292 128.5h1M295 128.5h1M306 128.5h1M327 128.5h2M213 129.5h2M259 129.5h3M265 129.5h1M269 129.5h1M283 129.5h1M288 129.5h7M296 129.5h2M299 129.5h1M304 129.5h2M245 130.5h1M252 130.5h1M255 130.5h2M261 130.5h2M268 130.5h1M271 130.5h1M274 130.5h2M281 130.5h1M284 130.5h2M291 130.5h2M294 130.5h2M298 130.5h2M303 130.5h2M307 130.5h2M311 130.5h2M317 130.5h1M326 130.5h1M244 131.5h3M249 131.5h2M253 131.5h1M256 131.5h1M258 131.5h1M260 131.5h3M264 131.5h2M278 131.5h2M286 131.5h2M289 131.5h1M291 131.5h2M298 131.5h3M321 131.5h1M210 132.5h1M215 132.5h1M239 132.5h2M251 132.5h1M260 132.5h1M262 132.5h4M269 132.5h2M272 132.5h1M287 132.5h1M289 132.5h1M292 132.5h1M298 132.5h3M302 132.5h3M312 132.5h1M240 133.5h3M257 133.5h6M265 133.5h3M270 133.5h2M276 133.5h1M280 133.5h1M286 133.5h1M288 133.5h3M294 133.5h3M301 133.5h2M305 133.5h2M308 133.5h1M244 134.5h2M253 134.5h1M255 134.5h3M259 134.5h3M270 134.5h1M276 134.5h3M282 134.5h1M286 134.5h1M292 134.5h1M294 134.5h2M297 134.5h2M300 134.5h1M314 134.5h2M216 135.5h2M219 135.5h1M221 135.5h3M226 135.5h2M231 135.5h2M243 135.5h1M251 135.5h1M259 135.5h1M261 135.5h2M266 135.5h2M269 135.5h2M277 135.5h1M286 135.5h1M288 135.5h2M291 135.5h3M296 135.5h2M299 135.5h4M306 135.5h2M215 136.5h1M226 136.5h2M257 136.5h1M263 136.5h1M275 136.5h3M281 136.5h1M286 136.5h1M288 136.5h2M300 136.5h1M302 136.5h2M306 136.5h1M309 136.5h1M315 136.5h2M216 137.5h3M236 137.5h1M255 137.5h2M261 137.5h1M267 137.5h3M277 137.5h1M279 137.5h2M293 137.5h1M298 137.5h2M219 138.5h1M224 138.5h1M227 138.5h4M243 138.5h2M248 138.5h2M268 138.5h1M272 138.5h2M281 138.5h1M290 138.5h2M293 138.5h1M298 138.5h3M312 138.5h2M208 139.5h1M211 139.5h4M232 139.5h1M243 139.5h1M253 139.5h2M261 139.5h1M264 139.5h2M270 139.5h4M280 139.5h1M291 139.5h1M294 139.5h1M311 139.5h2M319 139.5h2M213 140.5h2M224 140.5h3M228 140.5h1M233 140.5h2M239 140.5h1M245 140.5h3M255 140.5h1M260 140.5h2M267 140.5h3M273 140.5h1M276 140.5h4M281 140.5h2M285 140.5h3M292 140.5h1M294 140.5h1M296 140.5h3M302 140.5h4M214 141.5h1M223 141.5h2M226 141.5h2M231 141.5h2M235 141.5h2M241 141.5h2M272 141.5h1M274 141.5h2M277 141.5h4M282 141.5h6M289 141.5h1M210 142.5h2M217 142.5h1M224 142.5h2M228 142.5h3M232 142.5h1M238 142.5h1M251 142.5h2M256 142.5h2M267 142.5h2M272 142.5h5M279 142.5h5M285 142.5h1M287 142.5h1M291 142.5h1M295 142.5h3M302 142.5h1M304 142.5h1M325 142.5h2M208 143.5h1M220 143.5h2M224 143.5h3M233 143.5h7M248 143.5h1M265 143.5h1M270 143.5h2M273 143.5h2M277 143.5h2M290 143.5h1M294 143.5h1M297 143.5h1M302 143.5h2M309 143.5h2M207 144.5h4M213 144.5h1M215 144.5h1M219 144.5h1M221 144.5h1M223 144.5h2M226 144.5h2M235 144.5h1M237 144.5h2M281 144.5h1M283 144.5h2M286 144.5h4M293 144.5h1M302 144.5h2M305 144.5h1M310 144.5h1M207 145.5h1M213 145.5h1M216 145.5h2M220 145.5h2M224 145.5h1M226 145.5h1M234 145.5h2M253 145.5h2M266 145.5h4M274 145.5h1M284 145.5h1M287 145.5h1M291 145.5h3M300 145.5h3M309 145.5h2M312 145.5h2M326 145.5h1M216 146.5h2M219 146.5h1M223 146.5h4M230 146.5h2M235 146.5h1M259 146.5h2M267 146.5h1M269 146.5h2M272 146.5h2M284 146.5h1M287 146.5h3M294 146.5h3M300 146.5h1M330 146.5h1M208 147.5h1M212 147.5h1M214 147.5h2M217 147.5h1M220 147.5h1M224 147.5h3M230 147.5h3M239 147.5h2M251 147.5h2M258 147.5h1M261 147.5h2M274 147.5h1M284 147.5h2M289 147.5h1M294 147.5h3M298 147.5h1M301 147.5h2M304 147.5h1M315 147.5h1M322 147.5h2M211 148.5h1M216 148.5h5M223 148.5h2M226 148.5h1M232 148.5h2M274 148.5h2M279 148.5h1M283 148.5h1M288 148.5h2M295 148.5h2M304 148.5h1M309 148.5h2M323 148.5h1M214 149.5h1M219 149.5h1M225 149.5h1M229 149.5h2M235 149.5h1M252 149.5h1M265 149.5h1M272 149.5h1M276 149.5h2M279 149.5h2M284 149.5h6M293 149.5h2M297 149.5h3M302 149.5h1M304 149.5h1M207 150.5h2M212 150.5h2M216 150.5h1M220 150.5h3M225 150.5h2M228 150.5h2M239 150.5h2M245 150.5h2M263 150.5h2M266 150.5h2M269 150.5h2M275 150.5h1M288 150.5h1M290 150.5h4M299 150.5h1M305 150.5h3M211 151.5h2M224 151.5h2M241 151.5h1M257 151.5h1M259 151.5h2M267 151.5h1M269 151.5h2M273 151.5h1M285 151.5h2M291 151.5h1M294 151.5h3M301 151.5h1M310 151.5h1M223 152.5h3M231 152.5h2M276 152.5h1M281 152.5h2M295 152.5h2M304 152.5h3M311 152.5h1M220 153.5h2M225 153.5h1M259 153.5h1M265 153.5h2M275 153.5h1M289 153.5h2M293 153.5h1M308 153.5h3" stroke="rgb(45,45,45)" stroke-width="1.3" stroke-linecap="butt" fill="none"/>
<path d="M305 72.5h2M263 73.5h1M276 73.5h2M289 73.5h1M302 73.5h2M267 74.5h2M271 74.5h2M277 74.5h1M299 74.5h2M303 74.5h1M321 74.5h1M327 74.5h2M259 75.5h2M280 75.5h1M283 75.5h1M291 75.5h2M272 76.5h1M283 76.5h2M286 76.5h1M327 76.5h2M280 77.5h1M299 77.5h3M314 77.5h1M261 78.5h2M269 78.5h3M274 78.5h1M287 78.5h4M293 78.5h1M297 78.5h1M301 78.5h1M305 78.5h1M317 78.5h1M335 78.5h1M272 79.5h2M282 79.5h1M284 79.5h1M291 79.5h2M297 79.5h1M299 79.5h2M305 79.5h4M314 79.5h1M316 79.5h2M320 79.5h1M232 80.5h1M247 80.5h1M278 80.5h1M285 80.5h1M287 80.5h1M289 80.5h1M293 80.5h1M296 80.5h1M299 80.5h1M304 80.5h1M306 80.5h1M314 80.5h1M320 80.5h1M327 80.5h1M262 81.5h1M277 81.5h2M287 81.5h1M289 81.5h1M297 81.5h2M308 81.5h1M321 81.5h1M249 82.5h1M256 82.5h1M263 82.5h1M267 82.5h1M270 82.5h2M293 82.5h2M307 82.5h2M339 82.5h1M256 83.5h2M276 83.5h1M286 83.5h1M294 83.5h1M307 83.5h2M311 83.5h1M281 84.5h2M294 85.5h1M324 85.5h1M250 86.5h1M260 86.5h2M271 87.5h1M242 88.5h2M247 88.5h1M251 88.5h1M255 88.5h2M274 88.5h1M283 88.5h2M259 89.5h1M261 89.5h1M265 89.5h1M271 89.5h1M267 90.5h2M288 90.5h1M291 90.5h1M293 90.5h2M250 91.5h1M296 91.5h1M259 92.5h1M263 92.5h2M266 92.5h2M276 92.5h2M279 92.5h1M291 92.5h2M299 92.5h2M263 93.5h1M281 93.5h1M293 93.5h2M248 94.5h1M250 94.5h2M255 94.5h1M259 94.5h2M274 94.5h2M279 94.5h2M294 94.5h1M261 95.5h2M276 95.5h2M287 95.5h1M300 95.5h1M316 95.5h1M255 96.5h2M274 96.5h2M301 96.5h3M279 97.5h2M287 97.5h1M292 97.5h2M245 98.5h1M257 98.5h1M263 98.5h2M283 98.5h2M286 98.5h2M295 98.5h2M265 99.5h3M270 99.5h2M274 99.5h1M278 99.5h1M284 99.5h2M288 99.5h2M275 100.5h1M280 100.5h1M283 100.5h2M286 100.5h2M290 100.5h2M293 100.5h1M280 101.5h1M285 101.5h2M328 101.5h2M250 102.5h2M256 103.5h1M265 103.5h1M267 103.5h2M276 103.5h1M280 103.5h1M286 103.5h1M303 103.5h2M307 103.5h1M252 104.5h1M256 104.5h3M260 104.5h1M264 104.5h4M272 104.5h3M276 104.5h2M279 104.5h1M315 104.5h2M253 105.5h1M259 105.5h2M265 105.5h1M275 105.5h1M296 105.5h1M302 105.5h2M249 106.5h2M257 106.5h2M261 106.5h1M264 106.5h4M269 106.5h1M271 106.5h3M275 106.5h1M253 107.5h1M256 107.5h2M259 107.5h1M261 107.5h1M263 107.5h1M266 107.5h5M272 107.5h1M276 107.5h1M280 107.5h2M285 107.5h1M287 107.5h1M291 107.5h1M255 108.5h3M260 108.5h2M263 108.5h2M266 108.5h2M269 108.5h2M275 108.5h2M282 108.5h1M289 108.5h2M296 108.5h1M309 108.5h2M312 108.5h3M254 109.5h2M257 109.5h1M259 109.5h1M263 109.5h2M268 109.5h1M270 109.5h1M273 109.5h2M278 109.5h1M303 109.5h2M317 109.5h2M257 110.5h3M261 110.5h1M264 110.5h1M270 110.5h1M272 110.5h2M299 110.5h2M306 110.5h2M247 111.5h4M256 111.5h2M259 111.5h1M263 111.5h1M271 111.5h3M275 111.5h2M279 111.5h1M281 111.5h1M310 111.5h2M254 112.5h1M258 112.5h1M260 112.5h1M269 112.5h1M272 112.5h1M281 112.5h2M285 112.5h1M305 112.5h1M246 113.5h2M256 113.5h2M261 113.5h1M276 113.5h2M279 113.5h2M289 113.5h1M243 114.5h1M250 114.5h5M256 114.5h2M260 114.5h1M267 114.5h1M270 114.5h1M272 114.5h1M275 114.5h1M277 114.5h2M281 114.5h1M284 114.5h1M295 114.5h1M251 115.5h1M254 115.5h2M263 115.5h1M276 115.5h2M279 115.5h2M284 115.5h2M251 116.5h2M254 116.5h1M256 116.5h1M261 116.5h1M270 116.5h1M275 116.5h1M279 116.5h1M281 116.5h1M233 117.5h2M242 117.5h2M252 117.5h5M258 117.5h2M262 117.5h1M276 117.5h1M279 117.5h1M282 117.5h1M286 117.5h1M291 117.5h1M303 117.5h1M250 118.5h1M253 118.5h1M257 118.5h1M260 118.5h1M277 118.5h3M289 118.5h2M303 118.5h1M318 118.5h1M223 119.5h1M255 119.5h3M273 119.5h1M275 119.5h2M278 119.5h2M281 119.5h1M288 119.5h1M251 120.5h2M257 120.5h2M263 120.5h1M268 120.5h1M277 120.5h1M282 120.5h1M294 120.5h2M300 120.5h1M305 120.5h1M256 121.5h3M260 121.5h1M263 121.5h1M271 121.5h1M274 121.5h6M282 121.5h1M289 121.5h1M246 122.5h1M248 122.5h1M256 122.5h1M258 122.5h1M265 122.5h2M269 122.5h1M274 122.5h3M279 122.5h3M255 123.5h2M263 123.5h1M274 123.5h1M276 123.5h1M279 123.5h1M291 123.5h2M296 123.5h1M328 123.5h1M246 124.5h1M252 124.5h2M256 124.5h1M259 124.5h3M268 124.5h3M272 124.5h1M274 124.5h1M276 124.5h1M278 124.5h1M280 124.5h1M283 124.5h1M286 124.5h4M295 124.5h2M301 124.5h2M308 124.5h2M328 124.5h1M247 125.5h2M255 125.5h2M260 125.5h1M262 125.5h3M267 125.5h3M274 125.5h1M277 125.5h2M280 125.5h1M285 125.5h1M300 125.5h1M308 125.5h1M316 125.5h1M327 125.5h2M240 126.5h1M245 126.5h1M258 126.5h1M265 126.5h2M271 126.5h1M273 126.5h1M275 126.5h1M277 126.5h1M279 126.5h3M287 126.5h3M299 126.5h2M307 126.5h1M221 127.5h2M241 127.5h2M247 127.5h1M259 127.5h1M264 127.5h1M268 127.5h1M270 127.5h2M275 127.5h1M279 127.5h1M281 127.5h1M284 127.5h2M287 127.5h1M299 127.5h2M306 127.5h1M309 127.5h1M245 128.5h2M251 128.5h1M263 128.5h2M267 128.5h1M270 128.5h1M274 128.5h1M277 128.5h3M281 128.5h3M287 128.5h1M293 128.5h2M320 128.5h1M224 129.5h1M245 129.5h2M252 129.5h2M255 129.5h1M258 129.5h1M262 129.5h2M272 129.5h4M277 129.5h1M279 129.5h1M285 129.5h3M295 129.5h1M300 129.5h1M235 130.5h1M237 130.5h1M242 130.5h1M248 130.5h2M257 130.5h1M260 130.5h1M267 130.5h1M280 130.5h1M282 130.5h1M287 130.5h1M290 130.5h1M293 130.5h1M219 131.5h2M254 131.5h1M257 131.5h1M274 131.5h1M276 131.5h1M280 131.5h4M293 131.5h4M214 132.5h1M253 132.5h1M256 132.5h1M259 132.5h1M261 132.5h1M267 132.5h2M273 132.5h5M279 132.5h2M284 132.5h3M290 132.5h2M293 132.5h1M326 132.5h2M211 133.5h2M254 133.5h2M263 133.5h2M283 133.5h1M254 134.5h1M258 134.5h1M262 134.5h2M271 134.5h2M274 134.5h2M279 134.5h3M283 134.5h3M287 134.5h1M291 134.5h1M301 134.5h1M225 135.5h1M263 135.5h3M275 135.5h1M279 135.5h3M283 135.5h1M294 135.5h1M298 135.5h1M305 135.5h1M213 136.5h1M256 136.5h1M270 136.5h2M278 136.5h1M280 136.5h1M287 136.5h1M295 136.5h3M299 136.5h1M301 136.5h1M304 136.5h1M214 137.5h1M237 137.5h2M254 137.5h1M260 137.5h1M278 137.5h1M281 137.5h1M283 137.5h2M288 137.5h2M307 137.5h1M255 138.5h1M262 138.5h2M275 138.5h2M286 138.5h1M292 138.5h1M295 138.5h3M303 138.5h1M287 139.5h1M292 139.5h2M295 139.5h2M301 139.5h1M313 139.5h1M211 140.5h2M236 140.5h2M250 140.5h2M272 140.5h1M283 140.5h2M288 140.5h1M291 140.5h1M299 140.5h2M221 141.5h2M240 141.5h1M247 141.5h1M253 141.5h2M292 141.5h1M294 141.5h1M296 141.5h1M299 141.5h1M314 141.5h2M214 142.5h1M222 142.5h2M227 142.5h1M249 142.5h1M254 142.5h1M271 142.5h1M286 142.5h1M290 142.5h1M307 142.5h3M206 143.5h1M213 143.5h1M229 143.5h1M243 143.5h1M257 143.5h2M281 143.5h1M288 143.5h2M291 143.5h2M295 143.5h1M300 143.5h1M314 143.5h2M216 144.5h2M220 144.5h1M230 144.5h2M246 144.5h2M261 144.5h3M266 144.5h2M282 144.5h1M285 144.5h1M294 144.5h1M208 145.5h2M225 145.5h1M230 145.5h3M237 145.5h2M252 145.5h1M283 145.5h1M285 145.5h2M288 145.5h2M294 145.5h1M299 145.5h1M303 145.5h2M208 146.5h1M211 146.5h1M213 146.5h1M218 146.5h1M220 146.5h2M229 146.5h1M233 146.5h2M264 146.5h2M286 146.5h1M292 146.5h2M305 146.5h1M211 147.5h1M216 147.5h1M218 147.5h2M221 147.5h1M229 147.5h1M238 147.5h1M247 147.5h1M256 147.5h2M260 147.5h1M287 147.5h1M310 147.5h2M222 148.5h1M230 148.5h1M254 148.5h2M278 148.5h1M285 148.5h2M297 148.5h1M299 148.5h1M302 148.5h2M216 149.5h2M223 149.5h2M226 149.5h2M232 149.5h1M291 149.5h1M307 149.5h2M210 150.5h2M215 150.5h1M224 150.5h1M289 150.5h1M294 150.5h2M315 150.5h1M215 151.5h1M232 151.5h3M289 151.5h2M305 151.5h2M217 152.5h1M226 152.5h2M230 152.5h1M267 152.5h2M291 152.5h1M294 152.5h1M216 153.5h1M222 153.5h2M284 153.5h2M312 153.5h1M316 153.5h2" stroke="rgb(65,65,65)" stroke-width="1.3" stroke-linecap="butt" fill="none"/>
<path d="M280 74.5h2M255 91.5h1M266 103.5h1M267 105.5h1M269 105.5h1M262 106.5h1M268 106.5h1M264 107.5h1M260 109.5h2M265 109.5h1M267 109.5h1M269 109.5h1M271 109.5h1M262 110.5h1M265 110.5h1M268 110.5h2M262 111.5h1M264 111.5h3M274 111.5h1M262 112.5h4M267 112.5h1M270 112.5h1M273 112.5h1M258 113.5h3M262 113.5h3M266 113.5h1M268 113.5h3M273 113.5h1M275 113.5h1M259 114.5h1M261 114.5h4M266 114.5h1M269 114.5h1M273 114.5h2M257 115.5h3M262 115.5h1M264 115.5h2M268 115.5h2M271 115.5h1M273 115.5h1M275 115.5h1M258 116.5h3M262 116.5h4M268 116.5h2M271 116.5h4M277 116.5h1M260 117.5h1M267 117.5h1M271 117.5h1M273 117.5h3M258 118.5h2M261 118.5h2M265 118.5h2M268 118.5h2M271 118.5h1M273 118.5h1M276 118.5h1M307 118.5h1M248 119.5h2M261 119.5h3M265 119.5h1M267 119.5h1M269 119.5h3M274 119.5h1M260 120.5h3M266 120.5h1M271 120.5h4M279 120.5h1M323 120.5h2M243 121.5h1M259 121.5h1M261 121.5h2M264 121.5h2M267 121.5h1M269 121.5h2M272 121.5h2M267 122.5h2M270 122.5h3M262 123.5h1M265 123.5h1M270 123.5h1M273 123.5h1M275 123.5h1M280 123.5h1M265 124.5h3M277 124.5h1M265 125.5h1M273 125.5h1M261 126.5h1M268 126.5h1M272 126.5h1M262 127.5h1M274 127.5h1M278 129.5h1M273 130.5h1M288 131.5h1M282 132.5h2M286 139.5h1" stroke="rgb(85,85,85)" stroke-width="1.3" stroke-linecap="butt" fill="none"/>
<path d="M260 111.5h1M268 112.5h1M271 113.5h1M265 114.5h1M268 114.5h1M271 114.5h1M276 114.5h1M260 115.5h1M267 115.5h1M272 115.5h1M266 116.5h2M264 117.5h3M269 117.5h2M272 117.5h1M270 118.5h1M266 119.5h1M268 119.5h1M272 119.5h1M264 120.5h2M267 120.5h1M269 120.5h2M266 121.5h1M268 121.5h1M264 122.5h1" stroke="rgb(105,105,105)" stroke-width="1.3" stroke-linecap="butt" fill="none"/>
<text x="379.1" y="18.8" class="let">C</text>
<text transform="translate(433.6,18.8) scale(0.955,1)" class="tit">CHX</text>
<rect x="380.8" y="25.5" width="132.8" height="130.2" class="box"/>
<line x1="419.6" y1="25.5" x2="419.6" y2="155.7" class="div"/>
<line x1="380.8" y1="86.0" x2="513.6" y2="86.0" class="div"/>
<path d="M380.8 155.7v5M380.8 155.7h-5M390.8 155.7v3M380.8 145.9h-3M396.6 155.7v3M380.8 140.2h-3M400.8 155.7v3M380.8 136.1h-3M404.0 155.7v3M380.8 132.9h-3M406.6 155.7v3M380.8 130.4h-3M408.9 155.7v3M380.8 128.2h-3M410.8 155.7v3M380.8 126.3h-3M412.5 155.7v3M380.8 124.6h-3M414.0 155.7v5M380.8 123.1h-5M424.0 155.7v3M380.8 113.4h-3M429.8 155.7v3M380.8 107.6h-3M434.0 155.7v3M380.8 103.6h-3M437.2 155.7v3M380.8 100.4h-3M439.8 155.7v3M380.8 97.8h-3M442.1 155.7v3M380.8 95.6h-3M444.0 155.7v3M380.8 93.8h-3M445.7 155.7v3M380.8 92.1h-3M447.2 155.7v5M380.8 90.6h-5M457.2 155.7v3M380.8 80.8h-3M463.0 155.7v3M380.8 75.1h-3M467.2 155.7v3M380.8 71.0h-3M470.4 155.7v3M380.8 67.8h-3M473.0 155.7v3M380.8 65.3h-3M475.3 155.7v3M380.8 63.1h-3M477.2 155.7v3M380.8 61.2h-3M478.9 155.7v3M380.8 59.5h-3M480.4 155.7v5M380.8 58.0h-5M490.4 155.7v3M380.8 48.3h-3M496.2 155.7v3M380.8 42.5h-3M500.4 155.7v3M380.8 38.5h-3M503.6 155.7v3M380.8 35.3h-3M506.2 155.7v3M380.8 32.7h-3M508.5 155.7v3M380.8 30.5h-3M510.4 155.7v3M380.8 28.7h-3M512.1 155.7v3M380.8 27.0h-3M513.6 155.7v4.5M380.8 25.5h-4.5" class="tk"/>
<text class="ax" style="font-size:11.4px" transform="translate(374.6,173.5) scale(0.683,1)">10</text>
<text class="ax" style="font-size:11.4px" transform="translate(383.0,167.2) scale(0.683,1)">0</text>
<text class="ax" style="font-size:11.4px" transform="translate(407.8,173.5) scale(0.683,1)">10</text>
<text class="ax" style="font-size:11.4px" transform="translate(416.2,167.2) scale(0.683,1)">1</text>
<text class="ax" style="font-size:11.4px" transform="translate(441.0,173.5) scale(0.683,1)">10</text>
<text class="ax" style="font-size:11.4px" transform="translate(449.4,167.2) scale(0.683,1)">2</text>
<text class="ax" style="font-size:11.4px" transform="translate(474.2,173.5) scale(0.683,1)">10</text>
<text class="ax" style="font-size:11.4px" transform="translate(482.6,167.2) scale(0.683,1)">3</text>
<text class="ax" style="font-size:11.4px" transform="translate(507.4,173.5) scale(0.683,1)">10</text>
<text class="ax" style="font-size:11.4px" transform="translate(515.8,167.2) scale(0.683,1)">4</text>
<text class="ay lt" transform="translate(372.8,164.7) rotate(-90) scale(1.3,1)">10</text>
<text class="ay lt" style="font-size:9px" transform="translate(369.2,151.9) rotate(-90)">0</text>
<text class="ay lt" transform="translate(372.8,132.1) rotate(-90) scale(1.3,1)">10</text>
<text class="ay lt" style="font-size:9px" transform="translate(369.2,119.3) rotate(-90)">1</text>
<text class="ay lt" transform="translate(372.8,99.6) rotate(-90) scale(1.3,1)">10</text>
<text class="ay lt" style="font-size:9px" transform="translate(369.2,86.8) rotate(-90)">2</text>
<text class="ay lt" transform="translate(372.8,67.0) rotate(-90) scale(1.3,1)">10</text>
<text class="ay lt" style="font-size:9px" transform="translate(369.2,54.2) rotate(-90)">3</text>
<text class="ay lt" transform="translate(372.8,34.5) rotate(-90) scale(1.3,1)">10</text>
<text class="ay lt" style="font-size:9px" transform="translate(369.2,21.7) rotate(-90)">4</text>
<text class="at" style="font-size:10.3px" text-anchor="middle" transform="translate(446.0,184.0) scale(0.784,1)">AV-FITC</text>
<text class="ay lt" style="font-size:8.5px" transform="translate(362.2,97.6) rotate(-90) scale(1.3,1)">PI</text>
<text transform="translate(381.6,39.3) scale(1.08,1)" class="pc">1.0%</text>
<text transform="translate(513.9,39.3) scale(1.08,1)" class="pc" text-anchor="end">16.1%</text>
<text transform="translate(381.6,99.3) scale(1.08,1)" class="pc">34.4%</text>
<text transform="translate(513.9,154.8) scale(1.08,1)" class="pc" text-anchor="end">48.8%</text>
<path d="M471 70.5h1M435 72.5h1M440 72.5h2M445 72.5h2M454 72.5h1M463 72.5h1M468 72.5h1M470 72.5h2M479 72.5h2M482 72.5h2M490 72.5h2M400 73.5h1M453 73.5h1M462 73.5h2M479 73.5h1M395 74.5h1M424 74.5h2M443 74.5h1M475 74.5h1M452 75.5h2M455 75.5h2M459 75.5h1M477 75.5h1M487 75.5h2M414 76.5h2M447 76.5h2M455 76.5h2M472 76.5h2M480 76.5h1M488 76.5h1M506 76.5h2M428 77.5h2M431 77.5h4M440 77.5h1M453 77.5h1M463 77.5h1M476 77.5h1M478 77.5h3M493 77.5h1M434 78.5h1M452 78.5h1M457 78.5h2M467 78.5h1M475 78.5h3M442 79.5h1M455 79.5h3M459 79.5h2M462 79.5h3M475 79.5h2M479 79.5h3M484 79.5h2M429 80.5h2M434 80.5h2M439 80.5h1M455 80.5h2M462 80.5h4M475 80.5h6M489 80.5h4M435 81.5h4M440 81.5h2M458 81.5h2M461 81.5h1M464 81.5h1M469 81.5h2M480 81.5h2M484 81.5h1M389 82.5h1M396 82.5h1M398 82.5h1M425 82.5h1M429 82.5h2M439 82.5h1M445 82.5h1M451 82.5h4M465 82.5h2M468 82.5h3M473 82.5h3M384 83.5h2M427 83.5h1M438 83.5h1M441 83.5h1M445 83.5h2M448 83.5h2M455 83.5h1M464 83.5h1M471 83.5h2M474 83.5h1M484 83.5h2M490 83.5h2M437 84.5h3M442 84.5h2M454 84.5h1M461 84.5h1M472 84.5h1M474 84.5h1M479 84.5h1M484 84.5h4M490 84.5h2M506 84.5h2M420 85.5h1M424 85.5h2M430 85.5h2M434 85.5h1M437 85.5h1M440 85.5h2M443 85.5h3M448 85.5h6M458 85.5h2M462 85.5h2M465 85.5h3M478 85.5h1M481 85.5h2M430 86.5h1M433 86.5h2M440 86.5h2M444 86.5h1M447 86.5h2M455 86.5h1M460 86.5h1M462 86.5h4M467 86.5h2M470 86.5h3M474 86.5h3M479 86.5h2M484 86.5h2M490 86.5h1M430 87.5h2M434 87.5h4M444 87.5h1M446 87.5h2M469 87.5h1M473 87.5h1M475 87.5h2M482 87.5h1M487 87.5h1M493 87.5h1M498 87.5h2M430 88.5h2M434 88.5h1M439 88.5h2M446 88.5h2M457 88.5h1M467 88.5h1M469 88.5h2M472 88.5h1M474 88.5h1M480 88.5h1M485 88.5h6M494 88.5h1M507 88.5h1M419 89.5h1M429 89.5h2M432 89.5h3M436 89.5h1M438 89.5h2M442 89.5h1M449 89.5h1M451 89.5h1M483 89.5h2M495 89.5h2M433 90.5h4M472 90.5h1M480 90.5h1M484 90.5h2M488 90.5h1M430 91.5h1M432 91.5h2M437 91.5h1M439 91.5h1M444 91.5h1M471 91.5h1M476 91.5h1M484 91.5h2M413 92.5h2M422 92.5h1M434 92.5h1M438 92.5h1M440 92.5h1M443 92.5h1M445 92.5h1M449 92.5h1M472 92.5h1M476 92.5h1M478 92.5h1M484 92.5h2M492 92.5h3M430 93.5h2M437 93.5h3M446 93.5h1M453 93.5h2M457 93.5h1M471 93.5h1M474 93.5h1M477 93.5h1M482 93.5h2M486 93.5h1M490 93.5h1M492 93.5h2M430 94.5h2M435 94.5h2M440 94.5h1M445 94.5h1M447 94.5h1M457 94.5h1M459 94.5h1M463 94.5h2M468 94.5h1M472 94.5h1M476 94.5h1M480 94.5h1M484 94.5h1M489 94.5h1M396 95.5h1M428 95.5h1M430 95.5h2M440 95.5h1M442 95.5h1M445 95.5h1M447 95.5h1M480 95.5h1M503 95.5h1M423 96.5h1M434 96.5h1M437 96.5h2M453 96.5h1M456 96.5h1M461 96.5h1M464 96.5h2M468 96.5h3M473 96.5h3M481 96.5h1M430 97.5h5M439 97.5h3M446 97.5h3M455 97.5h9M467 97.5h1M470 97.5h2M474 97.5h1M476 97.5h8M430 98.5h2M435 98.5h3M440 98.5h1M450 98.5h2M453 98.5h3M460 98.5h1M464 98.5h2M467 98.5h1M470 98.5h1M473 98.5h1M489 98.5h2M510 98.5h2M428 99.5h2M431 99.5h1M436 99.5h1M439 99.5h1M449 99.5h2M453 99.5h1M456 99.5h5M465 99.5h2M470 99.5h2M477 99.5h2M483 99.5h1M490 99.5h1M431 100.5h2M436 100.5h2M442 100.5h2M450 100.5h1M454 100.5h1M456 100.5h1M458 100.5h1M463 100.5h2M471 100.5h2M477 100.5h1M481 100.5h1M483 100.5h1M495 100.5h1M497 100.5h2M406 101.5h2M432 101.5h1M439 101.5h2M442 101.5h2M446 101.5h2M454 101.5h2M465 101.5h2M471 101.5h3M492 101.5h2M441 102.5h2M446 102.5h1M451 102.5h1M456 102.5h2M465 102.5h1M467 102.5h1M472 102.5h2M476 102.5h2M484 102.5h2M497 102.5h2M444 103.5h2M459 103.5h3M467 103.5h1M469 103.5h2M477 103.5h1M480 103.5h1M487 103.5h2M500 103.5h2M452 104.5h1M460 104.5h2M474 104.5h1M482 104.5h1M488 104.5h2M402 105.5h2M444 105.5h1M450 105.5h2M464 105.5h2M490 105.5h1M498 105.5h3M508 105.5h2M458 106.5h2M482 106.5h2M488 106.5h2M393 107.5h2M469 107.5h2M481 107.5h2M493 107.5h1M488 108.5h1M497 108.5h1M427 109.5h1M465 109.5h1M481 109.5h2M488 109.5h1M496 109.5h2M478 110.5h2M501 110.5h2M433 111.5h1M446 111.5h2M462 111.5h2M468 111.5h1M474 111.5h1M489 111.5h1M489 112.5h1M493 112.5h2M431 113.5h1M483 113.5h1M492 113.5h1M506 113.5h1M458 114.5h2M469 115.5h1M482 115.5h2M492 115.5h1M505 115.5h2M421 116.5h2M491 116.5h1M485 117.5h1M424 118.5h1M459 118.5h2M480 118.5h1M485 118.5h2M490 118.5h1M494 118.5h2M498 118.5h1M389 119.5h1M386 121.5h2M490 121.5h2M503 121.5h2M400 122.5h1M486 122.5h2M495 122.5h1M508 123.5h1M403 124.5h3M407 124.5h1M453 124.5h2M473 124.5h2M483 124.5h2M498 124.5h2M403 125.5h1M416 125.5h2M431 125.5h1M461 125.5h2M390 126.5h2M399 126.5h2M433 126.5h1M482 126.5h2M392 128.5h2M396 128.5h2M401 128.5h1M408 128.5h1M428 128.5h1M442 129.5h2M489 129.5h2M497 129.5h2M390 130.5h3M397 130.5h1M401 130.5h2M417 130.5h1M445 130.5h1M494 130.5h1M396 131.5h1M407 131.5h1M466 131.5h2M395 132.5h1M443 132.5h1M399 133.5h2M403 133.5h2M504 133.5h1M403 134.5h1M481 134.5h2M410 135.5h2M433 135.5h1M464 135.5h1M485 135.5h1M396 136.5h3M405 136.5h1M419 136.5h1M388 137.5h2M393 137.5h1M399 137.5h2M408 137.5h1M498 137.5h1M389 138.5h3M393 138.5h1M398 138.5h1M402 138.5h1M405 138.5h2M411 138.5h1M413 138.5h2M504 138.5h2M386 139.5h1M391 139.5h2M394 139.5h4M402 139.5h1M406 139.5h2M390 140.5h1M400 140.5h3M407 140.5h1M413 140.5h3M443 140.5h1M488 140.5h1M383 141.5h1M388 141.5h2M391 141.5h2M395 141.5h2M403 141.5h2M406 141.5h1M503 141.5h2M382 142.5h1M385 142.5h1M390 142.5h3M395 142.5h1M397 142.5h2M400 142.5h1M402 142.5h3M408 142.5h6M415 142.5h1M417 142.5h2M463 142.5h2M476 142.5h2M383 143.5h1M385 143.5h4M393 143.5h2M399 143.5h1M401 143.5h2M404 143.5h4M418 143.5h1M479 143.5h2M386 144.5h2M394 144.5h1M396 144.5h1M399 144.5h2M404 144.5h1M406 144.5h2M411 144.5h2M416 144.5h1M386 145.5h2M389 145.5h1M391 145.5h1M401 145.5h1M403 145.5h1M407 145.5h2M410 145.5h2M441 145.5h2M490 145.5h2M385 146.5h1M397 146.5h1M401 146.5h1M404 146.5h1M406 146.5h3M485 146.5h2M382 147.5h1M388 147.5h1M391 147.5h1M399 147.5h2M413 147.5h1M415 147.5h4M421 147.5h1M448 147.5h2M464 147.5h1M477 147.5h2M382 148.5h1M390 148.5h1M393 148.5h1M401 148.5h2M405 148.5h1M411 148.5h1M413 148.5h4M386 149.5h2M389 149.5h1M391 149.5h1M397 149.5h2M401 149.5h3M407 149.5h1M409 149.5h1M411 149.5h2M468 149.5h2M384 150.5h6M392 150.5h1M405 150.5h1M408 150.5h2M413 150.5h1M419 150.5h2M453 150.5h1M382 151.5h1M391 151.5h1M394 151.5h1M405 151.5h1M407 151.5h4M412 151.5h1M432 151.5h1M457 151.5h2M382 152.5h2M388 152.5h2M391 152.5h1M393 152.5h1M397 152.5h1M399 152.5h1M401 152.5h1M404 152.5h1M407 152.5h3M390 153.5h1M392 153.5h1M394 153.5h2M397 153.5h1M407 153.5h1M417 153.5h2M475 153.5h2M392 154.5h5M399 154.5h1M402 154.5h2M407 154.5h4" stroke="rgb(45,45,45)" stroke-width="1.3" stroke-linecap="butt" fill="none"/>
<path d="M434 71.5h2M455 72.5h1M472 72.5h2M393 73.5h1M410 73.5h1M454 73.5h1M467 73.5h1M480 73.5h1M398 74.5h1M432 74.5h1M486 74.5h1M413 75.5h2M441 75.5h2M405 76.5h1M408 76.5h2M430 76.5h1M454 76.5h1M489 76.5h1M491 76.5h1M430 77.5h1M437 79.5h1M439 79.5h2M482 79.5h2M390 80.5h1M469 80.5h2M457 81.5h1M463 81.5h1M465 81.5h2M438 82.5h1M477 82.5h2M481 82.5h2M401 83.5h1M450 83.5h2M466 83.5h2M473 83.5h1M475 83.5h1M488 83.5h2M466 84.5h1M470 84.5h1M475 84.5h2M480 84.5h2M439 85.5h1M455 85.5h2M464 85.5h1M471 85.5h4M479 85.5h2M484 85.5h1M489 85.5h2M435 86.5h2M439 86.5h1M442 86.5h2M453 86.5h2M458 86.5h1M461 86.5h1M469 86.5h1M481 86.5h2M488 86.5h2M502 86.5h2M438 87.5h2M442 87.5h2M448 87.5h1M450 87.5h2M453 87.5h1M455 87.5h1M458 87.5h1M461 87.5h1M464 87.5h3M468 87.5h1M470 87.5h1M472 87.5h1M477 87.5h4M492 87.5h1M398 88.5h2M438 88.5h1M441 88.5h1M444 88.5h1M448 88.5h1M450 88.5h1M453 88.5h3M458 88.5h3M462 88.5h1M465 88.5h1M468 88.5h1M471 88.5h1M473 88.5h1M475 88.5h1M482 88.5h1M435 89.5h1M440 89.5h1M445 89.5h1M459 89.5h2M462 89.5h1M468 89.5h2M471 89.5h1M474 89.5h1M476 89.5h1M478 89.5h1M480 89.5h1M422 90.5h1M427 90.5h1M446 90.5h1M452 90.5h1M457 90.5h2M460 90.5h1M462 90.5h1M466 90.5h2M471 90.5h1M474 90.5h3M478 90.5h1M483 90.5h1M490 90.5h1M507 90.5h2M426 91.5h1M436 91.5h1M438 91.5h1M440 91.5h1M442 91.5h2M445 91.5h1M448 91.5h1M450 91.5h3M455 91.5h1M457 91.5h3M461 91.5h1M464 91.5h1M466 91.5h2M470 91.5h1M473 91.5h1M475 91.5h1M478 91.5h1M482 91.5h1M486 91.5h2M490 91.5h1M497 91.5h1M427 92.5h2M437 92.5h1M442 92.5h1M444 92.5h1M446 92.5h1M453 92.5h1M456 92.5h4M461 92.5h1M463 92.5h4M469 92.5h2M473 92.5h1M479 92.5h1M481 92.5h2M489 92.5h1M440 93.5h4M447 93.5h1M449 93.5h1M452 93.5h1M455 93.5h2M459 93.5h1M461 93.5h1M463 93.5h2M467 93.5h2M472 93.5h2M475 93.5h1M478 93.5h2M507 93.5h2M394 94.5h2M428 94.5h1M433 94.5h1M441 94.5h2M446 94.5h1M448 94.5h1M450 94.5h1M453 94.5h3M458 94.5h1M462 94.5h1M465 94.5h2M471 94.5h1M474 94.5h1M479 94.5h1M481 94.5h1M485 94.5h1M494 94.5h2M503 94.5h2M401 95.5h2M436 95.5h3M446 95.5h1M448 95.5h1M451 95.5h1M453 95.5h1M457 95.5h1M460 95.5h5M469 95.5h2M472 95.5h2M476 95.5h3M492 95.5h2M497 95.5h1M425 96.5h1M431 96.5h2M444 96.5h1M446 96.5h2M449 96.5h3M458 96.5h1M460 96.5h1M463 96.5h1M471 96.5h2M477 96.5h1M482 96.5h1M490 96.5h1M449 97.5h1M452 97.5h1M464 97.5h1M466 97.5h1M468 97.5h1M472 97.5h1M486 97.5h3M502 97.5h1M426 98.5h2M434 98.5h1M444 98.5h1M462 98.5h1M471 98.5h1M484 98.5h1M488 98.5h1M388 99.5h1M424 99.5h1M448 99.5h1M452 99.5h1M461 99.5h1M484 99.5h1M447 100.5h2M466 100.5h5M484 100.5h1M435 101.5h2M457 101.5h3M450 102.5h1M478 102.5h2M486 102.5h1M488 102.5h2M491 103.5h2M496 103.5h1M425 104.5h2M456 104.5h2M485 104.5h1M462 105.5h2M486 105.5h3M492 105.5h1M470 106.5h1M452 107.5h1M465 107.5h1M480 107.5h1M494 107.5h1M446 109.5h1M493 109.5h1M494 110.5h2M503 110.5h1M431 111.5h1M479 111.5h1M485 111.5h1M423 112.5h1M485 113.5h2M491 113.5h1M493 114.5h1M508 114.5h2M486 115.5h1M489 115.5h1M467 117.5h1M482 118.5h3M481 119.5h1M493 119.5h1M501 121.5h2M395 123.5h1M432 123.5h2M400 124.5h2M477 124.5h1M492 124.5h2M484 126.5h2M388 128.5h2M403 129.5h2M389 131.5h2M411 131.5h2M392 132.5h1M405 132.5h2M391 133.5h1M395 133.5h2M506 133.5h1M484 134.5h2M404 135.5h1M399 136.5h2M410 136.5h2M425 136.5h3M396 137.5h2M403 137.5h1M405 137.5h2M385 138.5h3M392 138.5h1M397 138.5h1M400 138.5h2M403 138.5h1M383 139.5h2M393 139.5h1M386 140.5h2M411 140.5h1M386 141.5h2M411 141.5h2M418 141.5h2M455 141.5h2M383 142.5h2M394 142.5h1M421 142.5h2M389 143.5h2M395 143.5h1M397 143.5h1M409 143.5h2M391 144.5h3M397 144.5h1M401 144.5h1M403 144.5h1M393 145.5h3M398 145.5h2M402 145.5h1M404 145.5h1M386 146.5h1M389 146.5h1M392 146.5h3M396 146.5h1M398 146.5h3M402 146.5h2M385 147.5h1M389 147.5h2M392 147.5h1M394 147.5h2M401 147.5h2M406 147.5h2M412 147.5h1M392 148.5h1M395 148.5h1M397 148.5h4M403 148.5h1M407 148.5h1M451 148.5h1M382 149.5h2M388 149.5h1M392 149.5h1M394 149.5h1M396 149.5h1M404 149.5h1M391 150.5h1M393 150.5h1M395 150.5h5M401 150.5h1M404 150.5h1M410 150.5h1M385 151.5h1M393 151.5h1M396 151.5h5M402 151.5h1M404 151.5h1M415 151.5h2M511 151.5h2M394 152.5h2M398 152.5h1M400 152.5h1M403 152.5h1M432 152.5h2M500 152.5h2M387 153.5h1M391 153.5h1M393 153.5h1M398 153.5h2M403 153.5h1M420 153.5h2M400 154.5h2" stroke="rgb(65,65,65)" stroke-width="1.3" stroke-linecap="butt" fill="none"/>
<path d="M444 83.5h1M456 87.5h1M462 87.5h1M461 88.5h1M456 89.5h1M461 89.5h1M466 89.5h1M445 90.5h1M453 90.5h1M456 90.5h1M459 90.5h1M463 90.5h1M469 90.5h2M473 90.5h1M456 91.5h1M462 91.5h1M468 91.5h2M455 92.5h1M462 92.5h1M477 92.5h1M450 93.5h1M456 94.5h1M470 94.5h1M466 95.5h1M484 95.5h2M399 135.5h2M402 141.5h1M398 144.5h1M392 145.5h1M397 145.5h1M397 147.5h2M404 148.5h1M402 150.5h1M401 151.5h1" stroke="rgb(85,85,85)" stroke-width="1.3" stroke-linecap="butt" fill="none"/>
<path d="M453 89.5h1" stroke="rgb(105,105,105)" stroke-width="1.3" stroke-linecap="butt" fill="none"/>
<text x="24.2" y="214.0" class="let">D</text>
<text transform="translate(83.4,213.8) scale(0.955,1)" class="tit">Plg</text>
<rect x="26.0" y="224.4" width="139.3" height="125.6" class="box"/>
<line x1="67.3" y1="224.4" x2="67.3" y2="350.0" class="div"/>
<line x1="26.0" y1="283.4" x2="165.3" y2="283.4" class="div"/>
<path d="M26.0 350.0v5M26.0 350.0h-5M36.5 350.0v3M26.0 340.5h-3M42.6 350.0v3M26.0 335.0h-3M47.0 350.0v3M26.0 331.1h-3M50.3 350.0v3M26.0 328.1h-3M53.1 350.0v3M26.0 325.6h-3M55.4 350.0v3M26.0 323.5h-3M57.5 350.0v3M26.0 321.6h-3M59.2 350.0v3M26.0 320.0h-3M60.8 350.0v5M26.0 318.6h-5M71.3 350.0v3M26.0 309.1h-3M77.4 350.0v3M26.0 303.6h-3M81.8 350.0v3M26.0 299.7h-3M85.2 350.0v3M26.0 296.7h-3M87.9 350.0v3M26.0 294.2h-3M90.3 350.0v3M26.0 292.1h-3M92.3 350.0v3M26.0 290.2h-3M94.1 350.0v3M26.0 288.6h-3M95.7 350.0v5M26.0 287.2h-5M106.1 350.0v3M26.0 277.7h-3M112.3 350.0v3M26.0 272.2h-3M116.6 350.0v3M26.0 268.3h-3M120.0 350.0v3M26.0 265.3h-3M122.7 350.0v3M26.0 262.8h-3M125.1 350.0v3M26.0 260.7h-3M127.1 350.0v3M26.0 258.8h-3M128.9 350.0v3M26.0 257.2h-3M130.5 350.0v5M26.0 255.8h-5M141.0 350.0v3M26.0 246.3h-3M147.1 350.0v3M26.0 240.8h-3M151.4 350.0v3M26.0 236.9h-3M154.8 350.0v3M26.0 233.9h-3M157.6 350.0v3M26.0 231.4h-3M159.9 350.0v3M26.0 229.3h-3M161.9 350.0v3M26.0 227.4h-3M163.7 350.0v3M26.0 225.8h-3M165.3 350.0v4.5M26.0 224.4h-4.5" class="tk"/>
<text class="ax" style="font-size:9.7px" transform="translate(19.8,366.3) scale(0.683,1)">10</text>
<text class="ax" style="font-size:9.7px" transform="translate(28.2,361.4) scale(0.683,1)">0</text>
<text class="ax" style="font-size:9.7px" transform="translate(54.6,366.3) scale(0.683,1)">10</text>
<text class="ax" style="font-size:9.7px" transform="translate(63.0,361.4) scale(0.683,1)">1</text>
<text class="ax" style="font-size:9.7px" transform="translate(89.5,366.3) scale(0.683,1)">10</text>
<text class="ax" style="font-size:9.7px" transform="translate(97.9,361.4) scale(0.683,1)">2</text>
<text class="ax" style="font-size:9.7px" transform="translate(124.3,366.3) scale(0.683,1)">10</text>
<text class="ax" style="font-size:9.7px" transform="translate(132.7,361.4) scale(0.683,1)">3</text>
<text class="ax" style="font-size:9.7px" transform="translate(159.1,366.3) scale(0.683,1)">10</text>
<text class="ax" style="font-size:9.7px" transform="translate(167.5,361.4) scale(0.683,1)">4</text>
<text class="ay lt" transform="translate(18.0,359.0) rotate(-90) scale(1.3,1)">10</text>
<text class="ay lt" style="font-size:9px" transform="translate(14.4,346.2) rotate(-90)">0</text>
<text class="ay lt" transform="translate(18.0,327.6) rotate(-90) scale(1.3,1)">10</text>
<text class="ay lt" style="font-size:9px" transform="translate(14.4,314.8) rotate(-90)">1</text>
<text class="ay lt" transform="translate(18.0,296.2) rotate(-90) scale(1.3,1)">10</text>
<text class="ay lt" style="font-size:9px" transform="translate(14.4,283.4) rotate(-90)">2</text>
<text class="ay lt" transform="translate(18.0,264.8) rotate(-90) scale(1.3,1)">10</text>
<text class="ay lt" style="font-size:9px" transform="translate(14.4,252.0) rotate(-90)">3</text>
<text class="ay lt" transform="translate(18.0,233.4) rotate(-90) scale(1.3,1)">10</text>
<text class="ay lt" style="font-size:9px" transform="translate(14.4,220.6) rotate(-90)">4</text>
<text class="at" style="font-size:10.3px" text-anchor="middle" transform="translate(94.5,376.7) scale(0.799,1)">AV-FITC</text>
<text class="ay lt" style="font-size:8.5px" transform="translate(7.4,294.2) rotate(-90) scale(1.3,1)">PI</text>
<text transform="translate(26.8,238.2) scale(1.08,1)" class="pc">0.6%</text>
<text transform="translate(165.6,238.2) scale(1.08,1)" class="pc" text-anchor="end">3.5%</text>
<text transform="translate(26.8,296.7) scale(1.08,1)" class="pc">62.5%</text>
<text transform="translate(165.6,296.7) scale(1.08,1)" class="pc" text-anchor="end">33.6%</text>
<path d="M116 257.5h1M90 267.5h1M61 268.5h1M79 268.5h2M109 268.5h1M121 268.5h2M81 269.5h2M90 269.5h2M133 269.5h2M84 270.5h1M87 271.5h1M101 271.5h1M103 271.5h1M116 271.5h2M139 271.5h1M61 272.5h1M65 272.5h2M72 272.5h1M89 272.5h1M112 272.5h2M120 272.5h1M83 273.5h1M87 273.5h1M89 273.5h2M118 273.5h2M135 273.5h2M75 274.5h2M88 274.5h2M91 274.5h2M103 274.5h2M109 274.5h1M111 274.5h3M120 274.5h3M86 275.5h2M89 275.5h1M91 275.5h1M97 275.5h1M99 275.5h2M105 275.5h2M108 275.5h2M115 275.5h1M123 275.5h2M128 275.5h5M66 276.5h1M78 276.5h1M83 276.5h1M92 276.5h1M97 276.5h2M110 276.5h1M116 276.5h2M146 276.5h2M47 277.5h1M72 277.5h1M77 277.5h1M79 277.5h1M88 277.5h2M92 277.5h1M95 277.5h1M98 277.5h4M107 277.5h2M113 277.5h1M115 277.5h5M137 277.5h2M68 278.5h2M72 278.5h2M82 278.5h1M86 278.5h7M107 278.5h2M111 278.5h1M115 278.5h3M119 278.5h1M121 278.5h2M139 278.5h1M61 279.5h1M76 279.5h2M84 279.5h1M94 279.5h1M98 279.5h1M101 279.5h2M110 279.5h4M116 279.5h1M125 279.5h1M138 279.5h2M34 280.5h2M74 280.5h2M85 280.5h1M87 280.5h2M95 280.5h2M99 280.5h2M108 280.5h2M111 280.5h1M118 280.5h1M125 280.5h1M63 281.5h1M78 281.5h1M80 281.5h1M90 281.5h1M99 281.5h2M102 281.5h1M106 281.5h1M127 281.5h1M87 282.5h1M101 282.5h3M108 282.5h2M131 282.5h1M82 283.5h1M97 283.5h2M123 283.5h1M72 284.5h1M68 285.5h1M80 285.5h1M87 285.5h1M98 285.5h1M97 286.5h1M72 288.5h1M79 288.5h2M82 288.5h4M109 288.5h1M126 288.5h1M67 290.5h1M70 290.5h2M81 290.5h1M87 290.5h2M117 290.5h1M96 291.5h3M118 291.5h2M129 291.5h2M136 291.5h2M53 292.5h2M74 292.5h1M78 292.5h2M98 292.5h3M62 293.5h1M69 293.5h1M78 293.5h1M83 293.5h4M99 293.5h1M72 294.5h1M78 294.5h2M85 294.5h4M100 294.5h1M124 294.5h1M73 295.5h1M81 295.5h1M86 295.5h1M98 295.5h1M150 295.5h2M76 296.5h1M78 296.5h2M97 296.5h1M66 297.5h2M72 297.5h2M76 297.5h1M97 297.5h4M103 297.5h1M109 297.5h1M111 297.5h2M118 297.5h1M62 298.5h2M68 298.5h1M71 298.5h1M75 298.5h2M81 298.5h3M86 298.5h2M101 298.5h2M104 298.5h1M68 299.5h2M80 299.5h2M89 299.5h5M106 299.5h1M118 299.5h1M134 299.5h1M57 300.5h2M65 300.5h2M71 300.5h2M79 300.5h3M84 300.5h4M90 300.5h2M93 300.5h1M100 300.5h1M114 300.5h2M117 300.5h2M125 300.5h1M67 301.5h4M80 301.5h1M85 301.5h2M89 301.5h1M91 301.5h2M111 301.5h2M115 301.5h1M77 302.5h2M80 302.5h2M85 302.5h4M91 302.5h3M67 303.5h1M69 303.5h1M74 303.5h1M104 303.5h2M135 303.5h1M151 303.5h1M65 304.5h2M70 304.5h2M73 304.5h1M82 304.5h3M87 304.5h2M93 304.5h2M121 304.5h1M127 304.5h2M45 305.5h2M56 305.5h1M73 305.5h4M80 305.5h3M87 305.5h2M97 305.5h2M69 306.5h1M73 306.5h4M86 306.5h2M89 306.5h2M92 306.5h1M100 306.5h2M117 306.5h2M125 306.5h1M68 307.5h1M75 307.5h3M79 307.5h1M82 307.5h1M84 307.5h1M88 307.5h2M99 307.5h2M72 308.5h1M79 308.5h1M83 308.5h1M85 308.5h1M90 308.5h2M106 308.5h1M46 309.5h2M72 309.5h2M76 309.5h2M80 309.5h1M90 309.5h4M97 309.5h1M69 310.5h2M73 310.5h3M77 310.5h1M80 310.5h1M83 310.5h1M85 310.5h1M87 310.5h4M96 310.5h2M147 310.5h2M46 311.5h2M73 311.5h1M75 311.5h1M79 311.5h2M83 311.5h1M88 311.5h1M93 311.5h1M95 311.5h2M115 311.5h1M83 312.5h1M86 312.5h2M89 312.5h2M93 312.5h3M97 312.5h1M151 312.5h2M72 313.5h1M84 313.5h2M90 313.5h3M99 313.5h3M134 313.5h2M66 314.5h2M74 314.5h2M78 314.5h2M81 314.5h3M88 314.5h1M91 314.5h3M96 314.5h2M101 314.5h3M107 314.5h4M76 315.5h3M80 315.5h2M85 315.5h1M87 315.5h2M102 315.5h2M111 315.5h4M120 315.5h2M77 316.5h2M81 316.5h2M84 316.5h3M88 316.5h1M90 316.5h2M94 316.5h1M96 316.5h1M101 316.5h1M105 316.5h2M109 316.5h1M130 316.5h2M160 316.5h1M72 317.5h3M78 317.5h1M81 317.5h1M83 317.5h1M91 317.5h1M100 317.5h2M109 317.5h2M63 318.5h1M73 318.5h1M79 318.5h1M83 318.5h4M89 318.5h1M94 318.5h1M96 318.5h2M114 318.5h1M123 318.5h2M32 319.5h1M79 319.5h3M84 319.5h2M92 319.5h2M96 319.5h2M33 320.5h1M47 320.5h2M72 320.5h2M78 320.5h1M86 320.5h1M88 320.5h2M92 320.5h1M97 320.5h1M113 320.5h2M124 320.5h1M33 321.5h2M38 321.5h3M71 321.5h2M78 321.5h2M81 321.5h1M83 321.5h3M115 321.5h1M35 322.5h1M52 322.5h2M59 322.5h1M71 322.5h1M77 322.5h1M84 322.5h13M98 322.5h2M103 322.5h2M109 322.5h1M115 322.5h3M130 322.5h2M30 323.5h1M43 323.5h1M47 323.5h1M78 323.5h1M81 323.5h1M85 323.5h4M92 323.5h2M96 323.5h3M102 323.5h2M109 323.5h1M116 323.5h2M39 324.5h1M47 324.5h4M78 324.5h1M83 324.5h3M89 324.5h1M92 324.5h2M96 324.5h1M103 324.5h1M105 324.5h1M128 324.5h2M162 324.5h1M27 325.5h1M38 325.5h1M81 325.5h1M84 325.5h2M88 325.5h2M91 325.5h1M93 325.5h2M98 325.5h2M104 325.5h1M138 325.5h1M27 326.5h2M30 326.5h2M39 326.5h1M46 326.5h1M53 326.5h6M63 326.5h1M68 326.5h2M83 326.5h2M86 326.5h2M89 326.5h1M93 326.5h1M95 326.5h1M97 326.5h1M99 326.5h1M101 326.5h3M112 326.5h2M119 326.5h1M124 326.5h2M127 326.5h2M41 327.5h1M49 327.5h1M52 327.5h1M68 327.5h2M80 327.5h1M83 327.5h2M87 327.5h9M99 327.5h3M105 327.5h1M119 327.5h2M127 327.5h1M27 328.5h2M30 328.5h1M33 328.5h1M39 328.5h4M46 328.5h1M50 328.5h5M65 328.5h2M80 328.5h2M87 328.5h1M89 328.5h2M93 328.5h4M104 328.5h1M106 328.5h4M29 329.5h2M32 329.5h2M35 329.5h1M39 329.5h3M43 329.5h1M45 329.5h3M52 329.5h1M56 329.5h2M65 329.5h1M87 329.5h2M90 329.5h1M95 329.5h1M98 329.5h1M29 330.5h1M31 330.5h1M36 330.5h1M40 330.5h1M45 330.5h1M49 330.5h1M54 330.5h2M74 330.5h1M85 330.5h1M87 330.5h1M92 330.5h3M101 330.5h2M106 330.5h1M110 330.5h1M27 331.5h1M43 331.5h1M47 331.5h1M62 331.5h1M71 331.5h2M82 331.5h2M90 331.5h4M97 331.5h4M103 331.5h4M108 331.5h1M30 332.5h1M37 332.5h1M44 332.5h1M47 332.5h1M53 332.5h1M55 332.5h2M61 332.5h4M96 332.5h1M98 332.5h1M107 332.5h2M114 332.5h2M29 333.5h1M53 333.5h1M58 333.5h2M61 333.5h1M63 333.5h2M70 333.5h4M90 333.5h5M103 333.5h2M106 333.5h2M109 333.5h2M112 333.5h2M123 333.5h2M56 334.5h4M75 334.5h1M82 334.5h2M96 334.5h3M101 334.5h1M104 334.5h1M107 334.5h2M63 335.5h2M68 335.5h1M93 335.5h1M95 335.5h9M107 335.5h1M113 335.5h1M85 336.5h2M90 336.5h1M95 336.5h1M97 336.5h2M100 336.5h2M103 336.5h1M106 336.5h1M109 336.5h1M111 336.5h2M63 337.5h4M100 337.5h1M102 337.5h2M120 337.5h2M140 337.5h1M59 338.5h1M63 338.5h1M66 338.5h1M78 338.5h2M102 338.5h1M106 338.5h2M61 339.5h2M96 339.5h1M105 339.5h1M110 339.5h1M112 339.5h1M62 340.5h1M64 340.5h1M96 340.5h2M101 340.5h2M106 340.5h2M121 340.5h2M61 341.5h4M67 341.5h1M95 341.5h2M105 341.5h1M118 341.5h2M59 342.5h1M64 342.5h3M87 342.5h1M109 342.5h2M64 343.5h2M68 343.5h2M116 343.5h1M67 344.5h2M113 344.5h2M61 345.5h1M64 345.5h3M109 345.5h1M111 345.5h1M62 346.5h1M74 346.5h2M99 346.5h3M66 347.5h1M64 348.5h4M69 348.5h2M72 348.5h4" stroke="rgb(45,45,45)" stroke-width="1.3" stroke-linecap="butt" fill="none"/>
<path d="M119 268.5h2M131 268.5h2M37 269.5h1M74 269.5h1M78 269.5h2M109 269.5h4M72 270.5h2M83 270.5h1M94 270.5h2M101 270.5h2M111 271.5h1M113 271.5h1M71 272.5h1M74 272.5h2M102 272.5h1M104 272.5h1M116 272.5h1M63 273.5h1M84 273.5h2M88 273.5h1M97 273.5h6M105 273.5h2M120 273.5h1M125 273.5h1M128 273.5h2M85 274.5h2M97 274.5h2M101 274.5h1M106 274.5h3M114 274.5h1M116 274.5h1M134 274.5h2M71 275.5h2M103 275.5h2M111 275.5h1M120 275.5h2M125 275.5h2M84 276.5h2M90 276.5h2M103 276.5h1M111 276.5h2M130 276.5h5M42 277.5h1M75 277.5h1M86 277.5h2M94 277.5h1M97 277.5h1M114 277.5h1M126 277.5h1M96 278.5h2M102 278.5h2M124 278.5h1M82 279.5h2M99 279.5h1M114 279.5h2M120 279.5h2M70 280.5h2M86 280.5h1M104 280.5h2M79 281.5h1M93 281.5h2M98 281.5h1M122 281.5h2M60 282.5h1M85 282.5h2M93 282.5h2M110 282.5h3M99 285.5h1M107 285.5h1M85 286.5h2M91 287.5h1M93 287.5h1M53 289.5h2M85 289.5h1M94 289.5h2M57 290.5h2M107 290.5h2M140 290.5h2M65 291.5h3M87 292.5h3M112 292.5h2M67 293.5h1M91 293.5h2M112 293.5h1M55 295.5h1M74 295.5h2M78 295.5h2M100 295.5h2M124 295.5h2M84 296.5h2M83 297.5h1M116 297.5h1M67 298.5h1M103 298.5h1M105 298.5h2M62 299.5h2M74 299.5h1M77 299.5h1M85 299.5h1M119 299.5h1M77 300.5h2M82 300.5h2M92 300.5h1M94 300.5h1M93 301.5h1M69 302.5h2M76 302.5h1M84 302.5h1M75 303.5h2M78 303.5h1M84 303.5h3M49 304.5h1M69 304.5h1M74 304.5h2M79 304.5h2M105 304.5h2M122 304.5h1M68 305.5h1M90 305.5h2M93 305.5h3M101 305.5h1M72 306.5h1M81 306.5h2M85 306.5h1M94 306.5h3M102 306.5h2M107 306.5h2M31 307.5h2M72 307.5h2M80 307.5h1M85 307.5h2M102 307.5h1M106 307.5h1M137 307.5h2M77 308.5h2M80 308.5h2M86 308.5h1M89 308.5h1M71 309.5h1M75 309.5h1M83 309.5h1M96 309.5h1M78 310.5h2M81 310.5h2M84 310.5h1M116 310.5h2M136 310.5h1M81 311.5h1M86 311.5h1M92 311.5h1M94 311.5h1M84 312.5h2M88 312.5h1M96 312.5h1M76 313.5h1M78 313.5h1M81 313.5h1M83 313.5h1M87 313.5h3M93 313.5h1M95 313.5h4M102 313.5h1M71 314.5h3M90 314.5h1M71 315.5h1M83 315.5h1M86 315.5h1M89 315.5h6M97 315.5h2M109 315.5h2M132 315.5h1M73 316.5h2M79 316.5h2M92 316.5h2M99 316.5h1M126 316.5h2M77 317.5h1M82 317.5h1M84 317.5h3M88 317.5h1M133 317.5h1M66 318.5h1M88 318.5h1M99 318.5h1M101 318.5h1M105 318.5h2M87 319.5h2M101 319.5h1M68 320.5h1M84 320.5h2M87 320.5h1M90 320.5h1M98 320.5h1M100 320.5h2M77 321.5h1M82 321.5h1M86 321.5h2M92 321.5h1M100 321.5h1M104 321.5h2M70 322.5h1M82 322.5h1M97 322.5h1M113 322.5h1M79 323.5h2M82 323.5h2M90 323.5h1M94 323.5h2M100 323.5h1M111 323.5h2M114 323.5h2M133 323.5h1M41 324.5h2M86 324.5h2M90 324.5h2M98 324.5h2M31 325.5h1M33 325.5h2M39 325.5h2M76 325.5h2M101 325.5h3M34 326.5h2M85 326.5h1M96 326.5h1M98 326.5h1M100 326.5h1M34 327.5h1M38 327.5h1M50 327.5h2M56 327.5h1M59 327.5h2M81 327.5h1M96 327.5h2M104 327.5h1M108 327.5h2M44 328.5h1M49 328.5h1M82 328.5h4M91 328.5h2M97 328.5h2M34 329.5h1M36 329.5h2M42 329.5h1M48 329.5h2M53 329.5h2M60 329.5h1M94 329.5h1M99 329.5h1M137 329.5h2M32 330.5h1M34 330.5h1M39 330.5h1M46 330.5h2M75 330.5h1M97 330.5h1M100 330.5h1M107 330.5h1M29 331.5h1M31 331.5h3M35 331.5h3M44 331.5h1M46 331.5h1M60 331.5h2M87 331.5h1M89 331.5h1M107 331.5h1M149 331.5h2M29 332.5h1M31 332.5h1M34 332.5h1M38 332.5h4M48 332.5h2M51 332.5h1M54 332.5h1M58 332.5h3M88 332.5h3M93 332.5h1M97 332.5h1M103 332.5h1M106 332.5h1M109 332.5h2M32 333.5h1M39 333.5h2M42 333.5h1M44 333.5h2M52 333.5h1M54 333.5h2M60 333.5h1M62 333.5h1M88 333.5h2M28 334.5h3M33 334.5h1M38 334.5h1M40 334.5h3M47 334.5h2M50 334.5h3M78 334.5h1M90 334.5h1M102 334.5h2M117 334.5h1M28 335.5h2M32 335.5h1M36 335.5h1M45 335.5h2M51 335.5h1M54 335.5h1M58 335.5h1M76 335.5h1M139 335.5h2M28 336.5h1M32 336.5h1M35 336.5h1M55 336.5h4M62 336.5h3M80 336.5h1M102 336.5h1M107 336.5h2M138 336.5h1M28 337.5h2M32 337.5h1M46 337.5h1M52 337.5h2M57 337.5h1M60 337.5h2M101 337.5h1M27 338.5h1M31 338.5h1M60 338.5h1M87 338.5h2M99 338.5h1M108 338.5h1M110 338.5h1M27 339.5h2M31 339.5h1M57 339.5h1M64 339.5h2M84 339.5h1M99 339.5h1M38 340.5h1M53 340.5h1M63 340.5h1M67 340.5h1M69 340.5h2M99 340.5h2M31 341.5h1M54 341.5h1M58 341.5h1M60 341.5h1M66 341.5h1M68 341.5h2M103 341.5h2M27 342.5h1M30 342.5h1M57 342.5h1M60 342.5h3M105 342.5h1M28 343.5h1M31 343.5h1M34 343.5h1M56 343.5h1M60 343.5h1M62 343.5h1M66 343.5h1M71 343.5h2M112 343.5h2M125 343.5h2M27 344.5h1M32 344.5h1M52 344.5h1M54 344.5h1M61 344.5h1M63 344.5h1M66 344.5h1M104 344.5h2M60 345.5h1M62 345.5h1M30 346.5h1M39 346.5h1M57 346.5h1M59 346.5h2M63 346.5h1M110 346.5h2M27 347.5h2M35 347.5h1M51 347.5h2M57 347.5h1M59 347.5h4M87 347.5h2M120 347.5h2M29 348.5h1M42 348.5h1M44 348.5h3M48 348.5h1M55 348.5h1M58 348.5h1M60 348.5h1M84 348.5h2" stroke="rgb(65,65,65)" stroke-width="1.3" stroke-linecap="butt" fill="none"/>
<path d="M98 319.5h2M34 331.5h1M40 331.5h1M51 331.5h1M33 332.5h1M42 332.5h1M28 333.5h1M31 333.5h1M41 333.5h1M43 333.5h1M48 333.5h1M51 333.5h1M27 334.5h1M31 334.5h2M35 334.5h3M39 334.5h1M44 334.5h1M46 334.5h1M30 335.5h1M34 335.5h1M37 335.5h5M43 335.5h1M49 335.5h2M55 335.5h1M29 336.5h1M31 336.5h1M33 336.5h2M36 336.5h3M41 336.5h1M44 336.5h2M47 336.5h1M49 336.5h1M51 336.5h1M53 336.5h1M27 337.5h1M31 337.5h1M35 337.5h1M38 337.5h1M40 337.5h1M43 337.5h1M45 337.5h1M47 337.5h2M51 337.5h1M54 337.5h2M58 337.5h1M28 338.5h3M33 338.5h1M35 338.5h1M38 338.5h1M40 338.5h1M43 338.5h7M51 338.5h2M55 338.5h1M109 338.5h1M29 339.5h1M32 339.5h2M35 339.5h4M45 339.5h3M50 339.5h4M56 339.5h1M59 339.5h1M27 340.5h2M31 340.5h3M35 340.5h1M37 340.5h1M39 340.5h3M44 340.5h2M49 340.5h2M52 340.5h1M55 340.5h3M59 340.5h1M28 341.5h3M35 341.5h2M38 341.5h3M42 341.5h1M44 341.5h4M52 341.5h1M55 341.5h3M59 341.5h1M28 342.5h2M32 342.5h6M39 342.5h1M42 342.5h1M46 342.5h1M48 342.5h2M51 342.5h5M58 342.5h1M27 343.5h1M29 343.5h2M32 343.5h2M37 343.5h1M39 343.5h1M42 343.5h2M48 343.5h1M50 343.5h1M52 343.5h1M54 343.5h2M58 343.5h1M29 344.5h2M33 344.5h1M35 344.5h5M41 344.5h3M45 344.5h1M47 344.5h1M49 344.5h2M53 344.5h1M57 344.5h4M62 344.5h1M28 345.5h1M30 345.5h2M33 345.5h1M37 345.5h4M43 345.5h1M45 345.5h3M49 345.5h4M54 345.5h1M56 345.5h1M58 345.5h2M27 346.5h1M31 346.5h2M34 346.5h1M38 346.5h1M40 346.5h2M43 346.5h2M46 346.5h2M49 346.5h1M52 346.5h3M56 346.5h1M29 347.5h1M31 347.5h1M33 347.5h2M36 347.5h1M39 347.5h3M43 347.5h1M46 347.5h1M48 347.5h3M53 347.5h4M58 347.5h1M27 348.5h1M30 348.5h2M34 348.5h1M36 348.5h6M43 348.5h1M49 348.5h6M61 348.5h2M112 348.5h1" stroke="rgb(85,85,85)" stroke-width="1.3" stroke-linecap="butt" fill="none"/>
<path d="M33 335.5h1M42 335.5h1M44 335.5h1M30 336.5h1M40 336.5h1M48 336.5h1M54 336.5h1M30 337.5h1M33 337.5h2M36 337.5h2M39 337.5h1M44 337.5h1M49 337.5h2M32 338.5h1M34 338.5h1M37 338.5h1M39 338.5h1M41 338.5h2M39 339.5h6M48 339.5h2M60 339.5h1M36 340.5h1M42 340.5h2M46 340.5h3M51 340.5h1M54 340.5h1M32 341.5h1M34 341.5h1M37 341.5h1M41 341.5h1M48 341.5h2M31 342.5h1M38 342.5h1M41 342.5h1M43 342.5h3M47 342.5h1M50 342.5h1M35 343.5h1M38 343.5h1M41 343.5h1M44 343.5h2M49 343.5h1M51 343.5h1M53 343.5h1M40 344.5h1M46 344.5h1M48 344.5h1M55 344.5h1M34 345.5h3M41 345.5h1M44 345.5h1M48 345.5h1M29 346.5h1M35 346.5h1M45 346.5h1M50 346.5h2M42 347.5h1M45 347.5h1M47 347.5h1" stroke="rgb(105,105,105)" stroke-width="1.3" stroke-linecap="butt" fill="none"/>
<text x="202.7" y="214.3" class="let">E</text>
<text transform="translate(238.0,213.3) scale(0.955,1)" class="tit">TNF<tspan style="font-weight:normal">α</tspan> + Plg</text>
<rect x="205.2" y="220.7" width="136.8" height="127.8" class="box"/>
<line x1="245.7" y1="220.7" x2="245.7" y2="348.5" class="div"/>
<line x1="205.2" y1="280.0" x2="342.0" y2="280.0" class="div"/>
<path d="M205.2 348.5v5M205.2 348.5h-5M215.5 348.5v3M205.2 338.9h-3M221.5 348.5v3M205.2 333.3h-3M225.8 348.5v3M205.2 329.3h-3M229.1 348.5v3M205.2 326.2h-3M231.8 348.5v3M205.2 323.6h-3M234.1 348.5v3M205.2 321.5h-3M236.1 348.5v3M205.2 319.6h-3M237.8 348.5v3M205.2 318.0h-3M239.4 348.5v5M205.2 316.6h-5M249.7 348.5v3M205.2 306.9h-3M255.7 348.5v3M205.2 301.3h-3M260.0 348.5v3M205.2 297.3h-3M263.3 348.5v3M205.2 294.2h-3M266.0 348.5v3M205.2 291.7h-3M268.3 348.5v3M205.2 289.5h-3M270.3 348.5v3M205.2 287.7h-3M272.0 348.5v3M205.2 286.1h-3M273.6 348.5v5M205.2 284.6h-5M283.9 348.5v3M205.2 275.0h-3M289.9 348.5v3M205.2 269.4h-3M294.2 348.5v3M205.2 265.4h-3M297.5 348.5v3M205.2 262.3h-3M300.2 348.5v3M205.2 259.7h-3M302.5 348.5v3M205.2 257.6h-3M304.5 348.5v3M205.2 255.7h-3M306.2 348.5v3M205.2 254.1h-3M307.8 348.5v5M205.2 252.6h-5M318.1 348.5v3M205.2 243.0h-3M324.1 348.5v3M205.2 237.4h-3M328.4 348.5v3M205.2 233.4h-3M331.7 348.5v3M205.2 230.3h-3M334.4 348.5v3M205.2 227.8h-3M336.7 348.5v3M205.2 225.6h-3M338.7 348.5v3M205.2 223.8h-3M340.4 348.5v3M205.2 222.2h-3M342.0 348.5v4.5M205.2 220.7h-4.5" class="tk"/>
<text class="ax" style="font-size:12.0px" transform="translate(199.0,366.9) scale(0.683,1)">10</text>
<text class="ax" style="font-size:12.0px" transform="translate(207.4,360.6) scale(0.683,1)">0</text>
<text class="ax" style="font-size:12.0px" transform="translate(233.2,366.9) scale(0.683,1)">10</text>
<text class="ax" style="font-size:12.0px" transform="translate(241.6,360.6) scale(0.683,1)">1</text>
<text class="ax" style="font-size:12.0px" transform="translate(267.4,366.9) scale(0.683,1)">10</text>
<text class="ax" style="font-size:12.0px" transform="translate(275.8,360.6) scale(0.683,1)">2</text>
<text class="ax" style="font-size:12.0px" transform="translate(301.6,366.9) scale(0.683,1)">10</text>
<text class="ax" style="font-size:12.0px" transform="translate(310.0,360.6) scale(0.683,1)">3</text>
<text class="ax" style="font-size:12.0px" transform="translate(335.8,366.9) scale(0.683,1)">10</text>
<text class="ax" style="font-size:12.0px" transform="translate(344.2,360.6) scale(0.683,1)">4</text>
<text class="ay lt" transform="translate(197.2,357.5) rotate(-90) scale(1.3,1)">10</text>
<text class="ay lt" style="font-size:9px" transform="translate(193.6,344.7) rotate(-90)">0</text>
<text class="ay lt" transform="translate(197.2,325.6) rotate(-90) scale(1.3,1)">10</text>
<text class="ay lt" style="font-size:9px" transform="translate(193.6,312.8) rotate(-90)">1</text>
<text class="ay lt" transform="translate(197.2,293.6) rotate(-90) scale(1.3,1)">10</text>
<text class="ay lt" style="font-size:9px" transform="translate(193.6,280.8) rotate(-90)">2</text>
<text class="ay lt" transform="translate(197.2,261.6) rotate(-90) scale(1.3,1)">10</text>
<text class="ay lt" style="font-size:9px" transform="translate(193.6,248.8) rotate(-90)">3</text>
<text class="ay lt" transform="translate(197.2,229.7) rotate(-90) scale(1.3,1)">10</text>
<text class="ay lt" style="font-size:9px" transform="translate(193.6,216.9) rotate(-90)">4</text>
<text class="at" style="font-size:11.3px" text-anchor="middle" transform="translate(272.4,378.0) scale(0.731,1)">AV-FITC</text>
<text class="ay lt" style="font-size:8.5px" transform="translate(186.6,291.6) rotate(-90) scale(1.3,1)">PI</text>
<text transform="translate(206.0,234.5) scale(1.08,1)" class="pc">0.6%</text>
<text transform="translate(342.3,234.5) scale(1.08,1)" class="pc" text-anchor="end">3.2%</text>
<text transform="translate(206.0,293.3) scale(1.08,1)" class="pc">75.6%</text>
<text transform="translate(342.3,293.3) scale(1.08,1)" class="pc" text-anchor="end">20.8%</text>
<path d="M271 264.5h2M257 265.5h1M307 265.5h2M265 266.5h1M284 266.5h2M318 266.5h1M241 267.5h2M251 267.5h2M254 267.5h1M279 267.5h2M296 267.5h1M304 267.5h2M310 267.5h2M235 268.5h2M259 268.5h1M263 268.5h2M266 268.5h1M280 268.5h2M285 268.5h1M297 268.5h1M321 268.5h2M256 269.5h1M267 269.5h2M271 269.5h1M273 269.5h3M279 269.5h1M281 269.5h3M286 269.5h2M290 269.5h1M301 269.5h2M308 269.5h1M245 270.5h2M255 270.5h5M263 270.5h2M269 270.5h2M272 270.5h1M274 270.5h2M278 270.5h1M303 270.5h1M306 270.5h2M312 270.5h1M318 270.5h1M231 271.5h2M263 271.5h1M266 271.5h3M274 271.5h1M279 271.5h2M283 271.5h1M294 271.5h1M301 271.5h1M305 271.5h2M230 272.5h1M236 272.5h1M243 272.5h2M256 272.5h2M261 272.5h1M263 272.5h1M268 272.5h1M272 272.5h2M276 272.5h1M284 272.5h2M290 272.5h3M295 272.5h2M299 272.5h3M249 273.5h1M255 273.5h1M260 273.5h1M268 273.5h1M276 273.5h2M282 273.5h1M293 273.5h1M295 273.5h2M299 273.5h3M255 274.5h1M260 274.5h2M274 274.5h2M277 274.5h1M279 274.5h2M286 274.5h1M297 274.5h2M250 275.5h2M255 275.5h1M264 275.5h4M270 275.5h1M276 275.5h2M284 275.5h1M290 275.5h1M295 275.5h1M302 275.5h4M312 275.5h1M314 275.5h2M251 276.5h1M261 276.5h1M269 276.5h1M275 276.5h2M278 276.5h1M281 276.5h2M287 276.5h1M311 276.5h1M315 276.5h2M265 277.5h1M269 277.5h2M272 277.5h1M281 277.5h1M283 277.5h1M230 278.5h1M258 278.5h2M261 278.5h2M264 278.5h4M275 278.5h1M277 278.5h1M267 279.5h2M275 279.5h1M282 279.5h2M255 280.5h1M261 280.5h1M306 280.5h1M245 282.5h2M301 282.5h2M236 283.5h2M263 284.5h1M268 284.5h2M273 284.5h2M246 285.5h1M259 285.5h2M272 285.5h1M274 285.5h1M286 285.5h2M336 285.5h2M249 286.5h2M261 286.5h2M238 287.5h1M263 287.5h1M288 287.5h2M325 287.5h2M262 288.5h1M274 288.5h2M290 288.5h2M250 289.5h1M264 289.5h1M274 289.5h1M285 289.5h1M326 289.5h2M339 289.5h2M241 290.5h2M281 290.5h1M335 290.5h1M261 291.5h2M267 291.5h1M307 291.5h1M322 291.5h1M259 292.5h1M265 292.5h2M277 292.5h3M282 292.5h1M268 293.5h1M278 293.5h1M288 293.5h1M299 293.5h1M307 293.5h2M253 294.5h1M271 294.5h1M303 294.5h1M312 294.5h2M249 295.5h1M275 295.5h1M285 295.5h2M290 295.5h2M295 295.5h2M306 295.5h2M309 295.5h2M325 295.5h1M334 295.5h1M256 296.5h1M263 296.5h3M268 296.5h1M271 296.5h1M290 296.5h1M256 297.5h2M270 297.5h2M274 297.5h2M281 297.5h1M287 297.5h2M301 297.5h1M334 297.5h2M213 298.5h2M253 298.5h2M265 298.5h1M271 298.5h1M277 298.5h2M280 298.5h2M328 298.5h1M253 299.5h2M257 299.5h1M261 299.5h2M269 299.5h1M279 299.5h1M286 299.5h2M317 299.5h2M259 300.5h1M264 300.5h3M268 300.5h4M274 300.5h1M277 300.5h3M207 301.5h1M230 301.5h2M243 301.5h1M245 301.5h2M255 301.5h2M259 301.5h5M267 301.5h2M270 301.5h2M273 301.5h1M285 301.5h2M288 301.5h2M323 301.5h1M250 302.5h2M255 302.5h1M261 302.5h1M265 302.5h1M268 302.5h2M276 302.5h1M292 302.5h2M302 302.5h1M258 303.5h4M269 303.5h1M271 303.5h2M275 303.5h1M304 303.5h2M250 304.5h2M253 304.5h1M264 304.5h2M269 304.5h2M279 304.5h2M289 304.5h1M296 304.5h2M299 304.5h2M314 304.5h1M231 305.5h1M257 305.5h1M261 305.5h2M265 305.5h3M280 305.5h2M291 305.5h2M296 305.5h2M311 305.5h2M248 306.5h1M256 306.5h2M264 306.5h2M267 306.5h3M271 306.5h2M274 306.5h1M276 306.5h1M278 306.5h2M282 306.5h1M288 306.5h2M291 306.5h1M247 307.5h2M251 307.5h1M255 307.5h4M260 307.5h4M265 307.5h3M269 307.5h1M272 307.5h5M285 307.5h2M243 308.5h1M248 308.5h1M251 308.5h2M260 308.5h3M266 308.5h1M268 308.5h2M280 308.5h6M247 309.5h2M262 309.5h4M271 309.5h1M274 309.5h2M279 309.5h1M285 309.5h4M245 310.5h1M252 310.5h2M255 310.5h2M266 310.5h1M268 310.5h2M276 310.5h2M248 311.5h1M252 311.5h5M262 311.5h5M272 311.5h3M276 311.5h4M284 311.5h2M294 311.5h1M307 311.5h2M324 311.5h1M261 312.5h1M264 312.5h1M268 312.5h1M279 312.5h1M281 312.5h2M317 312.5h2M210 313.5h2M247 313.5h2M265 313.5h1M267 313.5h2M270 313.5h5M291 313.5h1M228 314.5h2M247 314.5h2M269 314.5h2M273 314.5h4M281 314.5h2M290 314.5h1M217 315.5h1M236 315.5h1M251 315.5h2M256 315.5h2M259 315.5h2M268 315.5h2M272 315.5h1M274 315.5h2M280 315.5h2M287 315.5h1M296 315.5h2M252 316.5h2M257 316.5h2M266 316.5h2M269 316.5h2M273 316.5h1M275 316.5h3M295 316.5h2M258 317.5h2M263 317.5h3M267 317.5h1M270 317.5h1M277 317.5h1M289 317.5h2M293 317.5h1M332 317.5h2M214 318.5h2M226 318.5h2M250 318.5h3M255 318.5h2M263 318.5h3M269 318.5h2M274 318.5h1M277 318.5h2M281 318.5h4M298 318.5h1M300 318.5h2M315 318.5h1M329 318.5h1M232 319.5h1M249 319.5h2M272 319.5h2M275 319.5h1M291 319.5h1M207 320.5h2M219 320.5h3M236 320.5h2M245 320.5h2M252 320.5h1M273 320.5h1M276 320.5h1M281 320.5h2M286 320.5h1M299 320.5h3M211 321.5h3M219 321.5h2M229 321.5h1M234 321.5h2M254 321.5h2M257 321.5h3M265 321.5h1M271 321.5h3M322 321.5h2M207 322.5h2M215 322.5h2M218 322.5h1M221 322.5h1M226 322.5h2M233 322.5h2M248 322.5h1M253 322.5h2M261 322.5h1M265 322.5h1M269 322.5h2M274 322.5h1M277 322.5h2M280 322.5h2M283 322.5h2M293 322.5h1M322 322.5h2M208 323.5h1M213 323.5h1M218 323.5h1M225 323.5h3M229 323.5h3M238 323.5h3M250 323.5h2M257 323.5h2M265 323.5h2M270 323.5h2M277 323.5h1M280 323.5h1M285 323.5h1M319 323.5h2M211 324.5h3M216 324.5h2M222 324.5h2M228 324.5h3M233 324.5h1M252 324.5h2M267 324.5h1M274 324.5h1M278 324.5h1M282 324.5h1M286 324.5h1M290 324.5h1M296 324.5h2M334 324.5h2M206 325.5h1M210 325.5h1M212 325.5h1M216 325.5h2M219 325.5h1M224 325.5h2M227 325.5h4M232 325.5h3M240 325.5h1M255 325.5h1M266 325.5h1M269 325.5h3M278 325.5h1M292 325.5h2M295 325.5h1M207 326.5h1M210 326.5h1M212 326.5h1M216 326.5h1M218 326.5h1M228 326.5h1M230 326.5h1M233 326.5h2M250 326.5h2M258 326.5h2M262 326.5h1M272 326.5h2M277 326.5h1M281 326.5h1M289 326.5h1M295 326.5h2M208 327.5h1M217 327.5h1M226 327.5h1M231 327.5h1M236 327.5h1M239 327.5h2M250 327.5h2M274 327.5h3M304 327.5h1M210 328.5h1M239 328.5h3M261 328.5h1M265 328.5h2M269 328.5h1M271 328.5h1M275 328.5h1M295 328.5h1M229 329.5h1M248 329.5h2M251 329.5h2M260 329.5h3M265 329.5h2M271 329.5h1M274 329.5h3M309 329.5h2M239 330.5h1M245 330.5h1M247 330.5h2M266 330.5h3M295 330.5h1M303 330.5h1M306 330.5h2M242 331.5h3M250 331.5h1M252 331.5h1M263 331.5h2M268 331.5h2M275 331.5h2M278 331.5h1M289 331.5h2M242 332.5h2M249 332.5h1M255 332.5h1M284 332.5h1M312 332.5h1M329 332.5h1M246 333.5h2M254 333.5h1M272 333.5h2M287 333.5h1M299 333.5h2M314 333.5h2M241 334.5h1M255 334.5h1M258 334.5h2M241 335.5h1M246 335.5h1M265 335.5h1M282 335.5h1M247 336.5h2M255 336.5h2M262 336.5h2M269 336.5h2M273 336.5h2M278 336.5h2M294 336.5h2M284 337.5h1M264 338.5h2M270 338.5h2M295 338.5h2M244 339.5h1M264 339.5h3M279 339.5h2M282 339.5h1M287 339.5h2M305 339.5h2M327 339.5h1M260 340.5h1M263 340.5h2M282 340.5h2M314 340.5h2M247 341.5h2M292 341.5h2M242 342.5h1M272 342.5h1M289 342.5h1M296 342.5h1M244 343.5h2M275 343.5h1M285 343.5h4M335 343.5h1M244 344.5h2M247 344.5h1M278 344.5h2M245 345.5h3M258 345.5h2M298 345.5h2M329 345.5h1M241 346.5h1M243 346.5h2M248 346.5h2M242 347.5h1M246 347.5h1" stroke="rgb(45,45,45)" stroke-width="1.3" stroke-linecap="butt" fill="none"/>
<path d="M325 264.5h1M254 265.5h2M264 265.5h2M304 265.5h2M251 266.5h2M257 266.5h1M261 266.5h2M267 266.5h2M320 266.5h2M273 267.5h1M250 268.5h3M276 268.5h1M241 269.5h2M254 269.5h2M263 269.5h1M272 269.5h1M284 269.5h2M253 270.5h2M276 270.5h2M279 270.5h2M305 270.5h1M250 271.5h1M253 271.5h1M276 271.5h3M292 271.5h1M295 271.5h2M298 271.5h2M304 271.5h1M315 271.5h1M246 272.5h1M262 272.5h1M277 272.5h1M279 272.5h1M297 272.5h1M302 272.5h1M310 272.5h2M225 273.5h1M275 273.5h1M285 273.5h2M294 273.5h1M297 273.5h2M311 273.5h2M325 273.5h1M251 274.5h2M256 274.5h2M259 274.5h1M273 274.5h1M278 274.5h1M283 274.5h1M291 274.5h2M309 274.5h2M229 275.5h1M269 275.5h1M285 275.5h2M299 275.5h2M241 276.5h2M270 276.5h4M279 276.5h1M253 277.5h1M266 277.5h2M294 277.5h2M297 277.5h2M220 278.5h1M278 278.5h4M264 279.5h1M293 279.5h2M255 282.5h1M286 282.5h1M280 283.5h2M327 284.5h2M253 285.5h1M275 285.5h2M295 285.5h1M326 285.5h2M269 286.5h1M275 286.5h2M314 286.5h1M262 287.5h1M247 288.5h1M280 288.5h2M303 288.5h2M248 289.5h2M268 289.5h1M273 290.5h1M254 292.5h1M302 292.5h2M215 293.5h2M284 293.5h2M302 293.5h1M245 294.5h1M278 294.5h2M267 295.5h1M270 295.5h1M305 295.5h1M326 295.5h1M258 296.5h2M280 296.5h2M284 296.5h1M287 296.5h1M293 296.5h3M258 297.5h4M278 297.5h2M295 297.5h2M269 298.5h2M272 298.5h1M249 299.5h1M274 299.5h1M315 299.5h2M263 300.5h1M280 300.5h1M300 300.5h2M305 300.5h2M214 301.5h1M244 301.5h1M265 301.5h2M269 301.5h1M310 301.5h2M256 302.5h2M266 302.5h2M279 302.5h2M283 302.5h2M251 303.5h2M265 303.5h2M267 304.5h1M318 304.5h1M328 304.5h1M254 305.5h1M276 305.5h1M279 305.5h1M320 305.5h2M260 306.5h4M286 306.5h2M290 306.5h1M314 306.5h1M213 307.5h1M268 307.5h1M271 307.5h1M277 307.5h3M291 307.5h1M316 307.5h2M265 308.5h1M267 308.5h1M270 308.5h2M286 308.5h2M296 308.5h1M210 309.5h2M253 309.5h1M257 309.5h2M260 309.5h1M266 309.5h2M282 309.5h1M290 309.5h1M265 310.5h1M267 310.5h1M270 310.5h1M272 310.5h2M245 311.5h1M250 311.5h2M258 311.5h3M267 311.5h1M281 311.5h2M250 312.5h2M253 312.5h3M269 312.5h1M272 312.5h3M243 313.5h2M264 313.5h1M266 313.5h1M269 313.5h1M278 313.5h1M327 313.5h1M260 314.5h1M263 314.5h1M266 314.5h3M279 314.5h1M298 314.5h1M253 315.5h2M264 315.5h2M244 316.5h2M256 316.5h1M290 316.5h2M303 316.5h1M217 317.5h1M227 317.5h1M252 317.5h1M268 317.5h1M272 317.5h2M282 317.5h1M275 318.5h2M233 319.5h1M238 319.5h2M262 319.5h2M267 319.5h1M216 320.5h2M231 320.5h1M249 320.5h1M221 321.5h1M260 321.5h2M285 321.5h1M293 321.5h3M213 322.5h2M222 322.5h2M231 322.5h2M276 322.5h1M210 323.5h2M217 323.5h1M232 323.5h1M247 323.5h2M299 323.5h1M207 324.5h2M231 324.5h2M237 324.5h5M265 324.5h1M272 324.5h2M275 324.5h1M279 324.5h2M303 324.5h2M332 324.5h2M208 325.5h2M211 325.5h1M220 325.5h2M226 325.5h1M231 325.5h1M235 325.5h2M248 325.5h1M264 325.5h2M272 325.5h2M211 326.5h1M213 326.5h1M219 326.5h4M225 326.5h1M227 326.5h1M231 326.5h1M235 326.5h2M238 326.5h1M267 326.5h2M275 326.5h2M206 327.5h1M209 327.5h1M211 327.5h2M215 327.5h1M221 327.5h4M227 327.5h2M234 327.5h2M238 327.5h1M243 327.5h2M256 327.5h2M262 327.5h1M264 327.5h2M280 327.5h3M298 327.5h2M206 328.5h3M211 328.5h2M215 328.5h1M217 328.5h3M222 328.5h2M226 328.5h1M228 328.5h1M230 328.5h1M234 328.5h4M267 328.5h1M280 328.5h1M282 328.5h1M285 328.5h2M206 329.5h2M211 329.5h1M214 329.5h2M228 329.5h1M232 329.5h1M234 329.5h1M237 329.5h5M305 329.5h2M206 330.5h1M209 330.5h2M218 330.5h1M225 330.5h2M233 330.5h1M235 330.5h1M237 330.5h1M272 330.5h1M335 330.5h2M206 331.5h1M209 331.5h1M226 331.5h1M232 331.5h1M239 331.5h1M246 331.5h2M286 331.5h2M226 332.5h1M232 332.5h1M238 332.5h1M240 332.5h1M258 332.5h1M265 332.5h4M291 332.5h1M211 333.5h1M238 333.5h1M242 333.5h1M245 333.5h1M278 333.5h1M243 334.5h2M275 334.5h2M285 334.5h3M290 334.5h2M301 334.5h2M331 334.5h2M231 335.5h1M238 335.5h1M241 336.5h1M207 337.5h1M241 337.5h1M246 337.5h1M260 337.5h2M273 337.5h2M279 337.5h1M239 338.5h3M239 339.5h3M245 339.5h1M250 339.5h2M238 340.5h1M242 340.5h1M244 340.5h1M253 340.5h2M238 341.5h2M241 341.5h1M262 341.5h2M276 341.5h2M287 341.5h1M240 342.5h2M243 342.5h3M240 343.5h1M242 343.5h1M247 343.5h1M242 344.5h2M266 344.5h1M295 344.5h2M319 344.5h2M237 345.5h1M239 345.5h4M316 345.5h2M265 346.5h1M283 346.5h1M319 346.5h2M212 347.5h1M241 347.5h1M262 347.5h2" stroke="rgb(65,65,65)" stroke-width="1.3" stroke-linecap="butt" fill="none"/>
<path d="M258 288.5h1M307 290.5h1M259 307.5h1M256 308.5h2M257 314.5h1M209 318.5h2M207 327.5h1M225 327.5h1M233 327.5h1M338 327.5h1M209 328.5h1M216 328.5h1M224 328.5h1M229 328.5h1M268 328.5h1M209 329.5h2M213 329.5h1M218 329.5h3M222 329.5h1M224 329.5h4M231 329.5h1M235 329.5h2M207 330.5h2M211 330.5h2M214 330.5h4M220 330.5h4M227 330.5h2M231 330.5h2M234 330.5h1M238 330.5h1M208 331.5h1M211 331.5h2M216 331.5h4M221 331.5h2M224 331.5h2M227 331.5h2M230 331.5h2M233 331.5h1M238 331.5h1M241 331.5h1M207 332.5h3M212 332.5h1M214 332.5h2M219 332.5h1M221 332.5h1M228 332.5h1M230 332.5h1M233 332.5h5M239 332.5h1M277 332.5h2M206 333.5h1M208 333.5h2M212 333.5h1M215 333.5h2M218 333.5h2M221 333.5h2M226 333.5h2M237 333.5h1M206 334.5h1M208 334.5h2M214 334.5h1M216 334.5h3M222 334.5h1M224 334.5h1M226 334.5h1M229 334.5h1M231 334.5h2M234 334.5h3M239 334.5h2M206 335.5h3M210 335.5h3M214 335.5h1M217 335.5h1M219 335.5h1M221 335.5h1M226 335.5h2M230 335.5h1M233 335.5h1M235 335.5h2M239 335.5h2M206 336.5h3M210 336.5h2M214 336.5h1M216 336.5h1M225 336.5h1M227 336.5h2M231 336.5h2M235 336.5h2M238 336.5h1M240 336.5h1M206 337.5h1M211 337.5h1M217 337.5h1M236 337.5h2M239 337.5h2M206 338.5h4M219 338.5h1M225 338.5h1M233 338.5h2M236 338.5h1M238 338.5h1M207 339.5h1M211 339.5h1M215 339.5h1M218 339.5h1M220 339.5h1M232 339.5h1M235 339.5h4M206 340.5h1M209 340.5h3M217 340.5h1M219 340.5h1M234 340.5h1M210 341.5h1M212 341.5h1M214 341.5h1M217 341.5h1M222 341.5h1M231 341.5h5M240 341.5h1M242 341.5h1M206 342.5h3M219 342.5h1M234 342.5h1M236 342.5h2M206 343.5h1M208 343.5h1M210 343.5h1M212 343.5h2M215 343.5h2M221 343.5h1M229 343.5h1M236 343.5h4M206 344.5h1M209 344.5h1M212 344.5h1M214 344.5h1M218 344.5h2M226 344.5h1M230 344.5h1M234 344.5h2M237 344.5h5M206 345.5h2M213 345.5h3M218 345.5h1M221 345.5h1M225 345.5h1M230 345.5h3M235 345.5h1M238 345.5h1M206 346.5h4M211 346.5h1M216 346.5h1M222 346.5h1M225 346.5h2M230 346.5h1M234 346.5h1M236 346.5h2M239 346.5h2M206 347.5h1M208 347.5h4M213 347.5h1M215 347.5h1M217 347.5h2M221 347.5h1M224 347.5h2M228 347.5h2M231 347.5h1M234 347.5h4M239 347.5h2" stroke="rgb(85,85,85)" stroke-width="1.3" stroke-linecap="butt" fill="none"/>
<path d="M219 330.5h1M230 330.5h1M236 330.5h1M214 331.5h1M223 331.5h1M229 331.5h1M206 332.5h1M211 332.5h1M216 332.5h3M222 332.5h4M227 332.5h1M229 332.5h1M231 332.5h1M213 333.5h2M220 333.5h1M223 333.5h3M228 333.5h3M232 333.5h5M207 334.5h1M211 334.5h3M219 334.5h3M223 334.5h1M227 334.5h2M230 334.5h1M233 334.5h1M237 334.5h2M209 335.5h1M213 335.5h1M216 335.5h1M218 335.5h1M220 335.5h1M223 335.5h3M228 335.5h2M209 336.5h1M212 336.5h2M215 336.5h1M217 336.5h8M229 336.5h2M233 336.5h1M237 336.5h1M208 337.5h2M212 337.5h5M218 337.5h7M226 337.5h2M229 337.5h7M238 337.5h1M210 338.5h2M216 338.5h1M218 338.5h1M220 338.5h5M226 338.5h7M235 338.5h1M237 338.5h1M206 339.5h1M208 339.5h3M212 339.5h3M216 339.5h2M219 339.5h1M221 339.5h1M224 339.5h8M234 339.5h1M207 340.5h2M212 340.5h5M218 340.5h1M220 340.5h5M226 340.5h8M236 340.5h2M206 341.5h1M208 341.5h2M213 341.5h1M215 341.5h2M218 341.5h4M223 341.5h1M225 341.5h6M236 341.5h2M209 342.5h1M211 342.5h8M220 342.5h2M223 342.5h11M235 342.5h1M238 342.5h2M209 343.5h1M214 343.5h1M217 343.5h3M222 343.5h7M230 343.5h5M211 344.5h1M213 344.5h1M215 344.5h3M220 344.5h3M224 344.5h2M227 344.5h3M231 344.5h3M236 344.5h1M208 345.5h2M211 345.5h1M216 345.5h1M220 345.5h1M222 345.5h3M226 345.5h4M234 345.5h1M236 345.5h1M210 346.5h1M212 346.5h4M217 346.5h2M221 346.5h1M223 346.5h2M228 346.5h2M232 346.5h2M235 346.5h1M207 347.5h1M214 347.5h1M216 347.5h1M219 347.5h2M223 347.5h1M227 347.5h1M230 347.5h1M233 347.5h1" stroke="rgb(105,105,105)" stroke-width="1.3" stroke-linecap="butt" fill="none"/>
<text x="377.7" y="214.0" class="let">F</text>
<text transform="translate(413.8,213.3) scale(0.955,1)" class="tit">CHX + Plg</text>
<rect x="380.0" y="220.5" width="134.0" height="128.8" class="box"/>
<line x1="419.5" y1="220.5" x2="419.5" y2="349.3" class="div"/>
<line x1="380.0" y1="281.0" x2="514.0" y2="281.0" class="div"/>
<path d="M380.0 349.3v5M380.0 349.3h-5M390.1 349.3v3M380.0 339.6h-3M396.0 349.3v3M380.0 333.9h-3M400.2 349.3v3M380.0 329.9h-3M403.4 349.3v3M380.0 326.8h-3M406.1 349.3v3M380.0 324.2h-3M408.3 349.3v3M380.0 322.1h-3M410.3 349.3v3M380.0 320.2h-3M412.0 349.3v3M380.0 318.6h-3M413.5 349.3v5M380.0 317.1h-5M423.6 349.3v3M380.0 307.4h-3M429.5 349.3v3M380.0 301.7h-3M433.7 349.3v3M380.0 297.7h-3M436.9 349.3v3M380.0 294.6h-3M439.6 349.3v3M380.0 292.0h-3M441.8 349.3v3M380.0 289.9h-3M443.8 349.3v3M380.0 288.0h-3M445.5 349.3v3M380.0 286.4h-3M447.0 349.3v5M380.0 284.9h-5M457.1 349.3v3M380.0 275.2h-3M463.0 349.3v3M380.0 269.5h-3M467.2 349.3v3M380.0 265.5h-3M470.4 349.3v3M380.0 262.4h-3M473.1 349.3v3M380.0 259.8h-3M475.3 349.3v3M380.0 257.7h-3M477.3 349.3v3M380.0 255.8h-3M479.0 349.3v3M380.0 254.2h-3M480.5 349.3v5M380.0 252.7h-5M490.6 349.3v3M380.0 243.0h-3M496.5 349.3v3M380.0 237.3h-3M500.7 349.3v3M380.0 233.3h-3M503.9 349.3v3M380.0 230.2h-3M506.6 349.3v3M380.0 227.6h-3M508.8 349.3v3M380.0 225.5h-3M510.8 349.3v3M380.0 223.6h-3M512.5 349.3v3M380.0 222.0h-3M514.0 349.3v4.5M380.0 220.5h-4.5" class="tk"/>
<text class="ax" style="font-size:10.3px" transform="translate(373.8,366.5) scale(0.683,1)">10</text>
<text class="ax" style="font-size:10.3px" transform="translate(382.2,360.6) scale(0.683,1)">0</text>
<text class="ax" style="font-size:10.3px" transform="translate(407.3,366.5) scale(0.683,1)">10</text>
<text class="ax" style="font-size:10.3px" transform="translate(415.7,360.6) scale(0.683,1)">1</text>
<text class="ax" style="font-size:10.3px" transform="translate(440.8,366.5) scale(0.683,1)">10</text>
<text class="ax" style="font-size:10.3px" transform="translate(449.2,360.6) scale(0.683,1)">2</text>
<text class="ax" style="font-size:10.3px" transform="translate(474.3,366.5) scale(0.683,1)">10</text>
<text class="ax" style="font-size:10.3px" transform="translate(482.7,360.6) scale(0.683,1)">3</text>
<text class="ax" style="font-size:10.3px" transform="translate(507.8,366.5) scale(0.683,1)">10</text>
<text class="ax" style="font-size:10.3px" transform="translate(516.2,360.6) scale(0.683,1)">4</text>
<text class="ay lt" transform="translate(372.0,358.3) rotate(-90) scale(1.3,1)">10</text>
<text class="ay lt" style="font-size:9px" transform="translate(368.4,345.5) rotate(-90)">0</text>
<text class="ay lt" transform="translate(372.0,326.1) rotate(-90) scale(1.3,1)">10</text>
<text class="ay lt" style="font-size:9px" transform="translate(368.4,313.3) rotate(-90)">1</text>
<text class="ay lt" transform="translate(372.0,293.9) rotate(-90) scale(1.3,1)">10</text>
<text class="ay lt" style="font-size:9px" transform="translate(368.4,281.1) rotate(-90)">2</text>
<text class="ay lt" transform="translate(372.0,261.7) rotate(-90) scale(1.3,1)">10</text>
<text class="ay lt" style="font-size:9px" transform="translate(368.4,248.9) rotate(-90)">3</text>
<text class="ay lt" transform="translate(372.0,229.5) rotate(-90) scale(1.3,1)">10</text>
<text class="ay lt" style="font-size:9px" transform="translate(368.4,216.7) rotate(-90)">4</text>
<text class="at" style="font-size:11.2px" text-anchor="middle" transform="translate(446.5,376.9) scale(0.702,1)">AV-FITC</text>
<text class="ay lt" style="font-size:8.5px" transform="translate(361.4,291.9) rotate(-90) scale(1.3,1)">PI</text>
<text transform="translate(380.8,234.3) scale(1.08,1)" class="pc">0.6%</text>
<text transform="translate(514.3,234.3) scale(1.08,1)" class="pc" text-anchor="end">4.7%</text>
<text transform="translate(380.8,294.3) scale(1.08,1)" class="pc">61.8%</text>
<text transform="translate(514.3,348.4) scale(1.08,1)" class="pc" text-anchor="end">33.0%</text>
<path d="M444 265.5h2M455 265.5h2M465 265.5h1M440 266.5h1M469 266.5h1M479 266.5h2M436 267.5h2M449 267.5h1M477 267.5h2M442 268.5h1M447 268.5h1M455 268.5h1M464 268.5h1M470 268.5h3M408 269.5h2M435 269.5h1M453 269.5h1M431 270.5h2M444 270.5h4M465 270.5h1M470 270.5h4M492 270.5h1M462 271.5h1M494 271.5h1M439 272.5h2M459 272.5h1M469 272.5h1M489 272.5h2M495 272.5h2M406 273.5h1M445 273.5h1M454 273.5h1M457 273.5h1M461 273.5h2M471 273.5h3M477 273.5h2M437 274.5h1M472 274.5h2M439 275.5h1M443 275.5h2M483 276.5h2M426 277.5h1M461 277.5h2M464 277.5h1M469 277.5h1M477 277.5h1M492 277.5h1M441 278.5h2M447 278.5h2M461 278.5h2M468 278.5h3M474 278.5h1M481 278.5h3M494 278.5h1M496 278.5h2M441 279.5h1M446 279.5h1M449 279.5h2M461 279.5h1M425 280.5h1M431 280.5h2M437 280.5h2M458 280.5h1M466 280.5h2M469 280.5h2M472 280.5h1M423 281.5h2M441 281.5h2M447 281.5h1M450 281.5h1M458 281.5h2M463 281.5h1M466 281.5h1M480 281.5h2M483 281.5h1M440 282.5h1M442 282.5h1M444 282.5h2M447 282.5h2M451 282.5h3M456 282.5h4M464 282.5h1M471 282.5h2M475 282.5h2M442 283.5h2M452 283.5h7M461 283.5h2M464 283.5h1M467 283.5h2M470 283.5h1M472 283.5h1M474 283.5h2M482 283.5h1M486 283.5h1M434 284.5h1M436 284.5h1M438 284.5h2M441 284.5h1M443 284.5h1M451 284.5h5M458 284.5h2M464 284.5h1M467 284.5h2M474 284.5h2M480 284.5h1M482 284.5h2M489 284.5h3M420 285.5h2M439 285.5h2M444 285.5h1M446 285.5h1M448 285.5h1M458 285.5h2M461 285.5h1M467 285.5h1M473 285.5h1M476 285.5h1M479 285.5h1M483 285.5h1M488 285.5h2M424 286.5h2M435 286.5h4M449 286.5h1M457 286.5h1M459 286.5h1M462 286.5h2M474 286.5h2M479 286.5h1M483 286.5h4M425 287.5h2M431 287.5h1M438 287.5h1M440 287.5h1M456 287.5h1M459 287.5h1M475 287.5h1M479 287.5h1M484 287.5h2M499 287.5h1M428 288.5h1M431 288.5h1M435 288.5h5M455 288.5h1M484 288.5h1M486 288.5h2M430 289.5h2M436 289.5h2M484 289.5h2M488 289.5h1M430 290.5h3M434 290.5h2M437 290.5h1M441 290.5h1M462 290.5h1M465 290.5h1M482 290.5h1M485 290.5h1M490 290.5h1M426 291.5h1M432 291.5h2M439 291.5h1M479 291.5h1M481 291.5h1M484 291.5h3M488 291.5h1M492 291.5h1M428 292.5h1M436 292.5h1M443 292.5h1M448 292.5h1M452 292.5h1M455 292.5h1M464 292.5h1M474 292.5h1M477 292.5h1M482 292.5h5M491 292.5h1M502 292.5h1M431 293.5h3M440 293.5h3M446 293.5h1M450 293.5h1M453 293.5h1M463 293.5h1M468 293.5h1M475 293.5h1M477 293.5h1M485 293.5h2M434 294.5h1M436 294.5h1M440 294.5h2M444 294.5h1M456 294.5h1M459 294.5h1M461 294.5h1M466 294.5h1M471 294.5h1M476 294.5h3M482 294.5h1M487 294.5h2M434 295.5h3M441 295.5h3M445 295.5h1M447 295.5h4M459 295.5h1M462 295.5h4M469 295.5h2M474 295.5h3M478 295.5h2M482 295.5h1M499 295.5h1M427 296.5h2M443 296.5h1M446 296.5h1M454 296.5h3M461 296.5h1M465 296.5h2M473 296.5h4M479 296.5h2M491 296.5h2M427 297.5h2M454 297.5h2M463 297.5h1M466 297.5h2M469 297.5h4M475 297.5h1M477 297.5h1M444 298.5h1M467 298.5h2M477 298.5h2M506 298.5h1M426 299.5h2M460 299.5h3M466 299.5h3M474 299.5h1M493 299.5h2M409 300.5h2M438 300.5h2M442 300.5h2M457 300.5h2M482 300.5h1M485 300.5h1M489 300.5h1M504 300.5h1M436 301.5h2M441 301.5h1M449 301.5h2M457 301.5h2M483 301.5h1M432 302.5h1M434 302.5h1M444 302.5h2M449 302.5h1M464 302.5h2M471 302.5h1M508 302.5h2M434 303.5h3M450 303.5h1M485 303.5h2M418 304.5h2M433 304.5h2M437 304.5h1M440 304.5h1M489 304.5h2M427 305.5h2M442 305.5h2M444 306.5h1M511 306.5h2M456 307.5h1M488 307.5h2M496 307.5h2M419 308.5h2M455 308.5h2M468 308.5h1M475 308.5h2M437 309.5h2M404 310.5h2M422 310.5h1M432 310.5h2M459 310.5h2M411 311.5h1M465 311.5h2M435 312.5h2M440 312.5h2M444 312.5h1M454 313.5h1M457 313.5h2M496 314.5h2M445 315.5h2M451 315.5h1M489 315.5h1M426 316.5h2M436 316.5h1M398 317.5h1M408 317.5h1M423 317.5h2M431 317.5h1M503 317.5h1M385 318.5h1M440 318.5h2M450 318.5h2M453 318.5h1M396 319.5h2M449 319.5h2M457 319.5h2M387 320.5h2M396 320.5h3M408 320.5h2M427 320.5h1M456 320.5h1M382 321.5h1M399 321.5h1M408 321.5h2M438 321.5h1M393 322.5h1M397 322.5h1M400 322.5h1M424 322.5h1M436 322.5h1M382 323.5h1M393 323.5h1M396 323.5h2M407 323.5h1M417 323.5h2M474 323.5h1M477 323.5h2M509 323.5h2M381 324.5h1M390 324.5h5M404 324.5h4M457 324.5h2M475 324.5h2M503 324.5h1M383 325.5h2M386 325.5h1M391 325.5h1M394 325.5h1M396 325.5h2M407 325.5h2M414 325.5h2M425 325.5h1M444 325.5h3M493 325.5h2M381 326.5h2M384 326.5h3M388 326.5h4M393 326.5h2M396 326.5h2M400 326.5h1M402 326.5h3M411 326.5h1M430 326.5h2M498 326.5h1M382 327.5h1M386 327.5h3M391 327.5h1M396 327.5h1M398 327.5h1M400 327.5h1M403 327.5h1M407 327.5h2M475 327.5h2M381 328.5h1M383 328.5h1M387 328.5h1M389 328.5h1M395 328.5h1M397 328.5h1M414 328.5h1M435 328.5h1M458 328.5h1M381 329.5h2M388 329.5h1M391 329.5h1M407 329.5h1M414 329.5h1M416 329.5h2M389 330.5h1M392 330.5h1M398 330.5h1M413 330.5h1M449 330.5h2M477 330.5h1M386 331.5h1M415 331.5h1M435 331.5h2M389 332.5h1M417 332.5h1M473 332.5h2M381 333.5h1M415 333.5h1M436 333.5h2M456 333.5h1M467 333.5h1M416 334.5h2M381 335.5h1M416 335.5h1M418 335.5h2M430 335.5h1M433 335.5h1M415 336.5h2M419 336.5h2M417 338.5h3M423 338.5h2M505 338.5h1M420 339.5h2M468 339.5h2M416 340.5h2M466 340.5h1M420 341.5h2M485 341.5h1M430 342.5h1M467 342.5h1M477 342.5h2M500 342.5h2M509 342.5h1M416 343.5h3M433 343.5h1M415 344.5h1M418 344.5h2M421 344.5h2M416 345.5h1M419 345.5h1M416 346.5h2M419 346.5h2M457 346.5h1M417 347.5h1" stroke="rgb(45,45,45)" stroke-width="1.3" stroke-linecap="butt" fill="none"/>
<path d="M476 265.5h1M454 266.5h2M470 267.5h1M488 267.5h1M462 268.5h2M432 269.5h1M474 269.5h1M482 271.5h2M413 272.5h2M451 272.5h3M458 272.5h1M491 272.5h2M456 273.5h1M464 274.5h3M490 274.5h2M435 275.5h2M454 275.5h2M467 275.5h4M383 276.5h1M414 276.5h2M430 277.5h1M433 277.5h2M465 277.5h1M437 278.5h1M484 278.5h3M453 279.5h2M469 279.5h2M478 279.5h2M434 280.5h3M452 280.5h2M443 281.5h1M451 281.5h1M471 281.5h2M476 281.5h1M489 281.5h2M465 282.5h2M470 282.5h1M440 283.5h2M444 283.5h1M446 283.5h1M448 283.5h2M451 283.5h1M473 283.5h1M476 283.5h3M484 283.5h1M435 284.5h1M437 284.5h1M440 284.5h1M442 284.5h1M444 284.5h1M456 284.5h1M465 284.5h1M469 284.5h1M477 284.5h2M484 284.5h2M503 284.5h1M447 285.5h1M454 285.5h1M456 285.5h1M462 285.5h4M471 285.5h1M480 285.5h1M407 286.5h2M439 286.5h1M443 286.5h1M447 286.5h2M450 286.5h1M452 286.5h2M455 286.5h1M460 286.5h2M464 286.5h4M476 286.5h3M439 287.5h1M443 287.5h5M450 287.5h2M453 287.5h3M457 287.5h2M461 287.5h1M468 287.5h1M470 287.5h2M474 287.5h1M476 287.5h1M478 287.5h1M480 287.5h4M495 287.5h2M434 288.5h1M441 288.5h4M446 288.5h3M450 288.5h1M452 288.5h1M456 288.5h1M458 288.5h1M461 288.5h1M464 288.5h1M466 288.5h1M468 288.5h1M470 288.5h1M472 288.5h4M478 288.5h1M482 288.5h1M429 289.5h1M435 289.5h1M439 289.5h1M441 289.5h2M444 289.5h1M446 289.5h2M450 289.5h6M465 289.5h2M468 289.5h1M470 289.5h1M472 289.5h2M476 289.5h1M478 289.5h3M482 289.5h1M436 290.5h1M438 290.5h1M443 290.5h2M447 290.5h2M450 290.5h1M453 290.5h2M456 290.5h1M459 290.5h1M464 290.5h1M466 290.5h2M469 290.5h5M475 290.5h1M478 290.5h1M480 290.5h1M431 291.5h1M434 291.5h4M441 291.5h4M447 291.5h4M452 291.5h1M455 291.5h2M459 291.5h5M467 291.5h3M474 291.5h2M480 291.5h1M483 291.5h1M487 291.5h1M418 292.5h2M440 292.5h1M442 292.5h1M449 292.5h3M454 292.5h1M456 292.5h1M459 292.5h5M465 292.5h1M468 292.5h1M470 292.5h1M476 292.5h1M480 292.5h1M487 292.5h1M434 293.5h1M443 293.5h3M447 293.5h1M449 293.5h1M452 293.5h1M454 293.5h1M458 293.5h3M464 293.5h4M469 293.5h1M471 293.5h2M474 293.5h1M482 293.5h2M438 294.5h1M442 294.5h2M446 294.5h1M451 294.5h3M455 294.5h1M458 294.5h1M460 294.5h1M462 294.5h2M484 294.5h1M492 294.5h2M505 294.5h1M444 295.5h1M452 295.5h2M458 295.5h1M481 295.5h1M485 295.5h1M502 295.5h1M426 296.5h1M435 296.5h2M447 296.5h1M451 296.5h1M453 296.5h1M457 296.5h2M463 296.5h1M469 296.5h2M446 297.5h1M458 297.5h1M460 297.5h2M421 298.5h2M443 298.5h1M449 298.5h1M497 298.5h2M448 299.5h2M451 299.5h2M478 299.5h2M423 300.5h2M437 300.5h1M407 301.5h2M460 303.5h2M472 303.5h2M423 304.5h1M496 304.5h2M507 304.5h1M458 305.5h2M477 305.5h1M450 306.5h2M465 306.5h2M479 306.5h2M450 307.5h2M385 308.5h2M421 309.5h2M453 310.5h2M479 310.5h2M498 310.5h2M418 311.5h2M483 311.5h1M431 313.5h1M443 313.5h2M425 314.5h1M431 314.5h2M448 314.5h2M502 314.5h2M427 315.5h1M413 316.5h2M442 316.5h2M472 316.5h1M469 317.5h1M472 317.5h1M489 319.5h1M499 319.5h2M385 320.5h2M402 320.5h2M480 320.5h2M405 321.5h2M414 321.5h1M383 322.5h2M398 322.5h1M385 323.5h1M412 323.5h2M464 324.5h2M474 324.5h1M395 325.5h1M398 325.5h3M403 325.5h4M383 326.5h1M392 326.5h1M399 326.5h1M401 326.5h1M406 326.5h1M446 326.5h2M385 327.5h1M389 327.5h1M404 327.5h3M409 327.5h1M413 327.5h2M431 327.5h1M479 327.5h1M382 328.5h1M388 328.5h1M391 328.5h2M394 328.5h1M398 328.5h1M400 328.5h1M407 328.5h1M409 328.5h1M383 329.5h2M389 329.5h2M393 329.5h3M399 329.5h4M405 329.5h2M409 329.5h4M421 329.5h1M383 330.5h1M385 330.5h3M395 330.5h1M399 330.5h3M406 330.5h1M408 330.5h2M411 330.5h1M417 330.5h1M500 330.5h1M383 331.5h1M385 331.5h1M387 331.5h3M391 331.5h1M393 331.5h2M402 331.5h1M405 331.5h1M407 331.5h1M411 331.5h1M382 332.5h1M397 332.5h1M407 332.5h1M412 332.5h2M415 332.5h2M418 332.5h1M459 332.5h1M383 333.5h1M387 333.5h1M390 333.5h1M407 333.5h2M411 333.5h1M414 333.5h1M416 333.5h1M496 333.5h2M386 334.5h2M389 334.5h1M395 334.5h1M408 334.5h1M414 334.5h2M382 335.5h3M408 335.5h1M413 335.5h2M457 335.5h1M386 336.5h1M389 336.5h1M413 336.5h2M480 336.5h1M384 337.5h1M386 337.5h1M415 337.5h1M420 337.5h1M382 338.5h1M387 338.5h1M391 338.5h1M414 338.5h2M435 338.5h1M455 338.5h2M485 338.5h1M409 339.5h1M415 339.5h1M381 340.5h1M414 340.5h2M501 340.5h2M383 341.5h1M415 341.5h2M484 341.5h1M384 342.5h1M416 342.5h1M420 342.5h2M384 343.5h1M413 343.5h1M419 343.5h2M382 344.5h1M414 344.5h1M390 345.5h1M412 345.5h1M415 345.5h1M418 345.5h1M470 345.5h2M387 346.5h1M409 346.5h1M384 347.5h1M388 347.5h1M413 347.5h4" stroke="rgb(65,65,65)" stroke-width="1.3" stroke-linecap="butt" fill="none"/>
<path d="M467 277.5h2M442 286.5h1M471 286.5h2M441 287.5h1M462 287.5h5M440 288.5h1M449 288.5h1M451 288.5h1M453 288.5h1M459 288.5h1M467 288.5h1M471 288.5h1M476 288.5h2M479 288.5h1M481 288.5h1M443 289.5h1M448 289.5h2M461 289.5h1M469 289.5h1M471 289.5h1M474 289.5h1M481 289.5h1M439 290.5h1M445 290.5h1M451 290.5h2M455 290.5h1M457 290.5h2M460 290.5h2M463 290.5h1M468 290.5h1M476 290.5h1M479 290.5h1M481 290.5h1M440 291.5h1M445 291.5h1M465 291.5h1M470 291.5h1M441 292.5h1M455 293.5h1M457 293.5h1M461 293.5h1M385 328.5h1M396 328.5h1M401 328.5h2M392 329.5h1M396 329.5h1M398 329.5h1M408 329.5h1M391 330.5h1M394 330.5h1M397 330.5h1M402 330.5h3M407 330.5h1M382 331.5h1M384 331.5h1M390 331.5h1M395 331.5h1M397 331.5h1M399 331.5h3M403 331.5h1M406 331.5h1M409 331.5h1M381 332.5h1M383 332.5h2M388 332.5h1M392 332.5h5M398 332.5h2M401 332.5h4M406 332.5h1M410 332.5h2M385 333.5h2M388 333.5h2M392 333.5h1M394 333.5h6M401 333.5h1M404 333.5h2M409 333.5h2M382 334.5h1M384 334.5h1M390 334.5h2M393 334.5h2M397 334.5h1M400 334.5h1M402 334.5h2M406 334.5h2M409 334.5h1M411 334.5h1M413 334.5h1M385 335.5h3M389 335.5h3M395 335.5h1M400 335.5h1M402 335.5h2M406 335.5h1M409 335.5h4M382 336.5h4M387 336.5h1M390 336.5h1M392 336.5h1M394 336.5h1M400 336.5h3M407 336.5h2M412 336.5h1M382 337.5h2M394 337.5h1M398 337.5h3M406 337.5h1M408 337.5h1M411 337.5h1M384 338.5h1M386 338.5h1M389 338.5h1M392 338.5h1M394 338.5h1M408 338.5h1M410 338.5h1M412 338.5h2M382 339.5h1M385 339.5h1M387 339.5h1M389 339.5h1M391 339.5h1M404 339.5h1M408 339.5h1M412 339.5h2M383 340.5h2M387 340.5h2M394 340.5h1M404 340.5h2M409 340.5h1M411 340.5h3M382 341.5h1M385 341.5h2M388 341.5h2M394 341.5h1M396 341.5h1M406 341.5h1M410 341.5h1M413 341.5h2M382 342.5h1M385 342.5h1M400 342.5h1M409 342.5h2M412 342.5h1M414 342.5h2M382 343.5h2M385 343.5h1M389 343.5h3M394 343.5h1M397 343.5h1M399 343.5h1M405 343.5h1M407 343.5h1M412 343.5h1M414 343.5h1M381 344.5h1M384 344.5h6M391 344.5h4M397 344.5h2M406 344.5h3M412 344.5h1M382 345.5h4M388 345.5h2M391 345.5h1M393 345.5h1M396 345.5h1M400 345.5h1M402 345.5h1M405 345.5h1M408 345.5h4M413 345.5h2M381 346.5h2M385 346.5h1M388 346.5h4M397 346.5h1M400 346.5h2M403 346.5h1M405 346.5h1M407 346.5h1M410 346.5h6M381 347.5h3M386 347.5h1M389 347.5h2M393 347.5h2M397 347.5h1M399 347.5h3M406 347.5h1M408 347.5h4" stroke="rgb(85,85,85)" stroke-width="1.3" stroke-linecap="butt" fill="none"/>
<path d="M398 331.5h1M404 331.5h1M409 332.5h1M400 333.5h1M402 333.5h1M412 333.5h1M392 334.5h1M398 334.5h1M401 334.5h1M388 335.5h1M392 335.5h2M396 335.5h1M401 335.5h1M404 335.5h2M407 335.5h1M393 336.5h1M395 336.5h5M403 336.5h2M406 336.5h1M410 336.5h1M385 337.5h1M389 337.5h3M393 337.5h1M395 337.5h3M401 337.5h1M403 337.5h2M407 337.5h1M409 337.5h1M412 337.5h1M388 338.5h1M393 338.5h1M395 338.5h2M398 338.5h2M401 338.5h6M409 338.5h1M411 338.5h1M388 339.5h1M390 339.5h1M392 339.5h1M394 339.5h1M396 339.5h8M405 339.5h1M407 339.5h1M389 340.5h5M395 340.5h1M397 340.5h7M406 340.5h3M381 341.5h1M384 341.5h1M387 341.5h1M390 341.5h1M392 341.5h2M395 341.5h1M397 341.5h9M407 341.5h3M411 341.5h2M383 342.5h1M389 342.5h1M392 342.5h8M401 342.5h1M403 342.5h6M392 343.5h1M395 343.5h2M398 343.5h1M400 343.5h4M406 343.5h1M408 343.5h4M390 344.5h1M396 344.5h1M399 344.5h2M402 344.5h4M409 344.5h3M386 345.5h2M392 345.5h1M395 345.5h1M397 345.5h3M401 345.5h1M404 345.5h1M406 345.5h1M384 346.5h1M386 346.5h1M392 346.5h1M394 346.5h3M398 346.5h2M391 347.5h1M396 347.5h1M398 347.5h1M402 347.5h4M407 347.5h1" stroke="rgb(105,105,105)" stroke-width="1.3" stroke-linecap="butt" fill="none"/>
</svg>
</body></html>
